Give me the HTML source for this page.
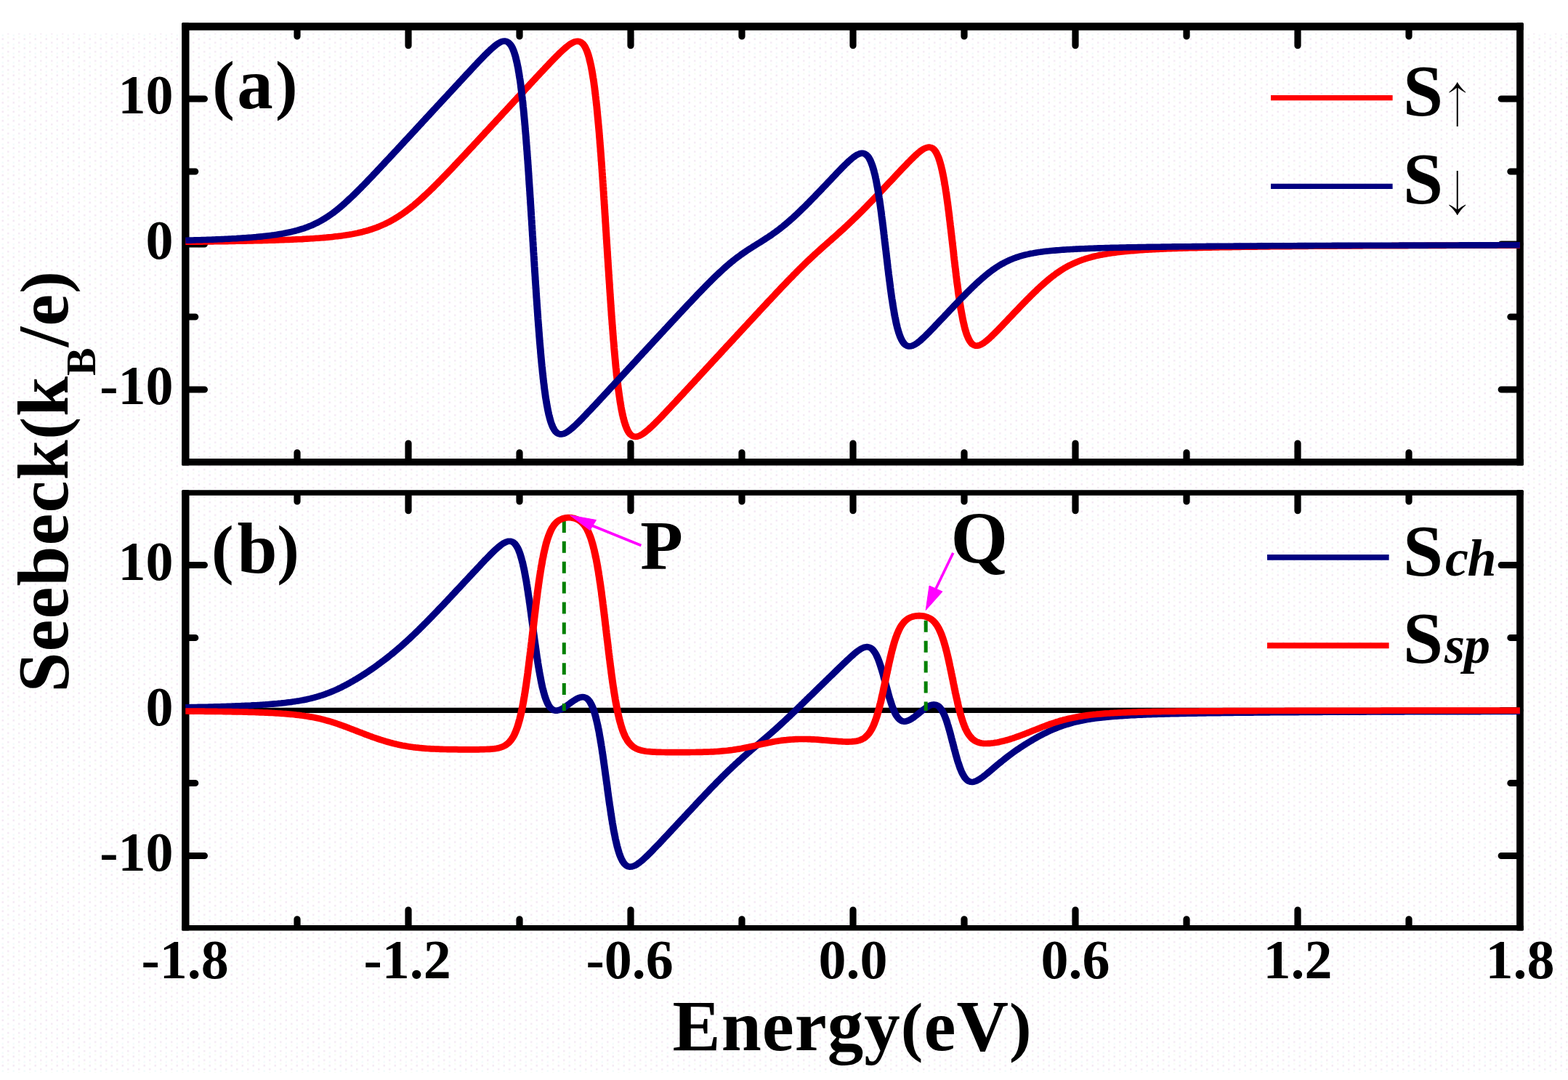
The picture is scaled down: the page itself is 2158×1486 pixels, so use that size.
<!DOCTYPE html>
<html lang="en"><head><meta charset="utf-8"><title>Seebeck coefficient versus energy</title>
<style>
html,body{margin:0;padding:0;background:#ffffff;}
body{width:2158px;height:1486px;overflow:hidden;}
svg{display:block;position:absolute;left:0;top:0;}
text{font-family:"Liberation Serif","Times New Roman",Times,serif;font-weight:bold;fill:#000;}
.tk{font-size:76px;}
.lb{font-size:99px;}
.pr{font-size:91.8px;}
.t{stroke:#000;stroke-width:9.2;stroke-linecap:round;fill:none;}
.c{fill:none;stroke-linejoin:round;stroke-linecap:butt;}
</style></head><body>
<svg width="2158" height="1486" viewBox="0 0 2158 1486">
<defs><pattern id="dith" width="15" height="12.5" patternUnits="userSpaceOnUse"><rect x="2.5" y="2.5" width="2.5" height="2.5" fill="#f3e7f3"/><rect x="10" y="7.5" width="2.5" height="2.5" fill="#f4eaf4"/><rect x="10" y="0" width="2.5" height="2.5" fill="#f8fcf5"/><rect x="2.5" y="10" width="2.5" height="2.5" fill="#f3fbfb"/></pattern></defs>
<rect x="0" y="0" width="2158" height="1486" fill="#ffffff"/>
<rect x="0" y="46" width="2158" height="1430" fill="url(#dith)"/>
<g id="panel-a">
<g fill="#000"><rect x="250.1" y="31.3" width="1846.7" height="10.5" rx="1.5"/><rect x="250.1" y="631.0" width="1846.7" height="9.6" rx="1.5"/><rect x="250.1" y="31.3" width="10.4" height="609.3" rx="1.5"/><rect x="2087.1" y="31.3" width="9.7" height="609.3" rx="1.5"/></g>
<path class="t" d="M409.0 631.0V622.8 M409.0 41.8V50.0 M562.0 631.0V610.1 M562.0 41.8V62.7 M715.0 631.0V622.8 M715.0 41.8V50.0 M868.0 631.0V610.1 M868.0 41.8V62.7 M1021.0 631.0V622.8 M1021.0 41.8V50.0 M1174.0 631.0V610.1 M1174.0 41.8V62.7 M1327.0 631.0V622.8 M1327.0 41.8V50.0 M1480.0 631.0V610.1 M1480.0 41.8V62.7 M1633.0 631.0V622.8 M1633.0 41.8V50.0 M1786.0 631.0V610.1 M1786.0 41.8V62.7 M1939.0 631.0V622.8 M1939.0 41.8V50.0 M255.3 536.0H281.4 M2092.0 536.0H2066.2 M255.3 436.0H268.7 M2092.0 436.0H2078.9 M255.3 336.0H281.4 M2092.0 336.0H2066.2 M255.3 236.0H268.7 M2092.0 236.0H2078.9 M255.3 136.0H281.4 M2092.0 136.0H2066.2"/>
<g transform="scale(1.15 1)"><path class="c" stroke="#ff0000" stroke-width="8.6" d="M222.0 332.8L224.2 332.8L226.3 332.8L228.5 332.7L230.7 332.7L232.9 332.7L235.0 332.6L237.2 332.6L239.4 332.6L241.6 332.6L243.7 332.5L245.9 332.5L248.1 332.5L250.3 332.4L252.4 332.4L254.6 332.4L256.8 332.3L259.0 332.3L261.1 332.2L263.3 332.2L265.5 332.2L267.7 332.1L269.8 332.1L272.0 332.1L274.2 332.0L276.4 332.0L278.5 331.9L280.7 331.9L282.9 331.8L285.0 331.8L287.2 331.7L289.4 331.7L291.6 331.6L293.7 331.6L295.9 331.5L298.1 331.5L300.3 331.4L302.4 331.4L304.6 331.3L306.8 331.3L309.0 331.2L311.1 331.1L313.3 331.1L315.5 331.0L317.7 330.9L319.8 330.9L322.0 330.8L324.2 330.7L326.3 330.6L328.5 330.6L330.7 330.5L332.9 330.4L335.0 330.3L337.2 330.2L339.4 330.1L341.6 330.0L343.7 330.0L345.9 329.9L348.1 329.8L350.3 329.6L352.4 329.5L354.6 329.4L356.8 329.3L358.9 329.2L361.1 329.1L363.3 328.9L365.5 328.8L367.6 328.6L369.8 328.5L372.0 328.3L374.1 328.2L376.3 328.0L378.5 327.8L380.6 327.7L382.8 327.5L385.0 327.3L387.1 327.1L389.3 326.9L391.5 326.6L393.6 326.4L395.8 326.2L398.0 325.9L400.1 325.6L402.3 325.3L404.4 325.1L406.6 324.7L408.8 324.4L410.9 324.1L413.1 323.7L415.2 323.3L417.4 322.9L419.5 322.5L421.6 322.1L423.8 321.6L425.9 321.1L428.0 320.6L430.2 320.0L432.3 319.5L434.4 318.9L436.5 318.2L438.6 317.6L440.7 316.9L442.8 316.1L444.8 315.4L446.9 314.6L448.9 313.7L451.0 312.9L453.0 312.0L455.0 311.0L457.0 310.0L459.0 309.0L461.0 308.0L462.9 306.9L464.9 305.8L466.8 304.6L468.7 303.4L470.6 302.2L472.5 300.9L474.3 299.6L476.2 298.3L478.0 296.9L479.8 295.6L481.6 294.2L483.4 292.7L485.2 291.3L486.9 289.8L488.7 288.3L490.4 286.7L492.1 285.2L493.8 283.6L495.5 282.1L497.1 280.4L498.8 278.8L500.4 277.2L502.1 275.6L503.7 273.9L505.3 272.2L506.9 270.5L508.5 268.8L510.1 267.1L511.7 265.4L513.3 263.7L514.8 262.0L516.4 260.2L518.0 258.5L519.5 256.7L521.0 255.0L522.6 253.2L524.1 251.4L525.6 249.6L527.2 247.9L528.7 246.1L530.2 244.3L531.7 242.5L533.2 240.7L534.7 238.9L536.3 237.1L537.8 235.3L539.3 233.5L540.8 231.7L542.3 229.8L543.8 228.0L545.2 226.2L546.7 224.4L548.2 222.6L549.7 220.8L551.2 218.9L552.7 217.1L554.2 215.3L555.7 213.5L557.2 211.6L558.6 209.8L560.1 208.0L561.6 206.1L563.1 204.3L564.6 202.5L566.1 200.7L567.5 198.8L569.0 197.0L570.5 195.2L572.0 193.3L573.5 191.5L574.9 189.7L576.4 187.8L577.9 186.0L579.4 184.2L580.8 182.3L582.3 180.5L583.8 178.7L585.3 176.8L586.8 175.0L588.2 173.2L589.7 171.3L591.2 169.5L592.7 167.7L594.1 165.8L595.6 164.0L597.1 162.2L598.6 160.3L600.0 158.5L601.5 156.6L603.0 154.8L604.5 153.0L606.0 151.1L607.4 149.3L608.9 147.5L610.4 145.6L611.9 143.8L613.3 142.0L614.8 140.1L616.3 138.3L617.8 136.5L619.2 134.6L620.7 132.8L622.2 131.0L623.7 129.1L625.2 127.3L626.6 125.5L628.1 123.6L629.6 121.8L631.1 120.0L632.6 118.1L634.0 116.3L635.5 114.5L637.0 112.6L638.5 110.8L640.0 109.0L641.4 107.1L642.9 105.3L644.4 103.5L645.9 101.6L647.4 99.8L648.9 98.0L650.3 96.2L651.8 94.4L653.3 92.5L654.8 90.7L656.3 88.9L657.8 87.1L659.3 85.3L660.8 83.5L662.3 81.7L663.9 79.9L665.4 78.1L666.9 76.4L668.5 74.6L670.0 72.8L671.6 71.1L673.2 69.4L674.8 67.7L676.4 66.1L678.1 64.4L679.8 62.9L681.5 61.4L683.3 60.0L685.2 58.8L687.2 57.7L689.3 57.0L691.4 56.8L693.6 57.2L695.5 58.3L697.2 59.9L698.6 61.8L699.8 63.8L700.8 66.0L701.7 68.3L702.6 70.6L703.3 73.0L704.0 75.4L704.6 77.8L705.2 80.2L705.7 82.6L706.2 85.0L706.7 87.5L707.2 89.9L707.6 92.4L708.0 94.8L708.4 97.3L708.8 99.7L709.1 102.2L709.5 104.7L709.8 107.1L710.2 109.6L710.5 112.1L710.8 114.6L711.1 117.0L711.4 119.5L711.7 122.0L711.9 124.5L712.2 126.9L712.5 129.4L712.7 131.9L713.0 134.4L713.2 136.9L713.5 139.4L713.7 141.9L713.9 144.3L714.2 146.8L714.4 149.3L714.6 151.8L714.8 154.3L715.0 156.8L715.2 159.3L715.4 161.8L715.6 164.2L715.8 166.7L716.0 169.2L716.2 171.7L716.4 174.2L716.6 176.7L716.8 179.2L717.0 181.7L717.2 184.2L717.3 186.7L717.5 189.2L717.7 191.6L717.9 194.1L718.0 196.6L718.2 199.1L718.4 201.6L718.6 204.1L718.7 206.6L718.9 209.1L719.1 211.6L719.2 214.1L719.4 216.6L719.5 219.1L719.7 221.6L719.9 224.1L720.0 226.6L720.2 229.0L720.3 231.5L720.5 234.0L720.6 236.5L720.8 239.0L720.9 241.5L721.1 244.0L721.2 246.5L721.4 249.0L721.5 251.5L721.7 254.0L721.8 256.5L722.0 259.0L722.1 261.5L722.3 264.0L722.4 266.5L722.5 269.0L722.7 271.5L722.8 274.0L723.0 276.4L723.1 278.9L723.2 281.4L723.4 283.9L723.5 286.4L723.7 288.9L723.8 291.4L723.9 293.9L724.1 296.4L724.2 298.9L724.4 301.4L724.5 303.9L724.6 306.4L724.8 308.9L724.9 311.4L725.0 313.9L725.2 316.4L725.3 318.9L725.5 321.4L725.6 323.9L725.7 326.4L725.9 328.9L726.0 331.3L726.1 333.8L726.3 336.3L726.4 338.8L726.6 341.3L726.7 343.8L726.8 346.3L727.0 348.8L727.1 351.3L727.2 353.8L727.4 356.3L727.5 358.8L727.7 361.3L727.8 363.8L727.9 366.3L728.1 368.8L728.2 371.3L728.4 373.8L728.5 376.3L728.6 378.8L728.8 381.3L728.9 383.8L729.1 386.2L729.2 388.7L729.4 391.2L729.5 393.7L729.6 396.2L729.8 398.7L729.9 401.2L730.1 403.7L730.2 406.2L730.4 408.7L730.5 411.2L730.7 413.7L730.8 416.2L731.0 418.7L731.1 421.2L731.3 423.7L731.4 426.2L731.6 428.7L731.7 431.1L731.9 433.6L732.0 436.1L732.2 438.6L732.4 441.1L732.5 443.6L732.7 446.1L732.9 448.6L733.0 451.1L733.2 453.6L733.4 456.1L733.5 458.6L733.7 461.1L733.9 463.6L734.0 466.1L734.2 468.5L734.4 471.0L734.6 473.5L734.8 476.0L734.9 478.5L735.1 481.0L735.3 483.5L735.5 486.0L735.7 488.5L735.9 491.0L736.1 493.5L736.3 495.9L736.5 498.4L736.7 500.9L736.9 503.4L737.1 505.9L737.4 508.4L737.6 510.9L737.8 513.4L738.0 515.9L738.3 518.3L738.5 520.8L738.8 523.3L739.0 525.8L739.3 528.3L739.5 530.8L739.8 533.2L740.1 535.7L740.4 538.2L740.7 540.7L741.0 543.2L741.3 545.6L741.6 548.1L741.9 550.6L742.2 553.0L742.6 555.5L743.0 558.0L743.3 560.4L743.7 562.9L744.1 565.4L744.6 567.8L745.0 570.2L745.5 572.7L746.0 575.1L746.6 577.5L747.1 580.0L747.8 582.3L748.4 584.7L749.2 587.1L750.0 589.4L750.9 591.7L751.9 593.9L753.1 596.0L754.5 597.9L756.2 599.4L758.2 600.5L760.3 600.9L762.4 600.7L764.5 600.0L766.5 598.9L768.4 597.7L770.2 596.3L771.9 594.8L773.6 593.2L775.3 591.6L776.9 590.0L778.5 588.3L780.1 586.6L781.7 584.8L783.2 583.1L784.8 581.3L786.3 579.5L787.8 577.8L789.4 576.0L790.9 574.2L792.4 572.4L793.9 570.6L795.4 568.8L796.9 566.9L798.4 565.1L799.9 563.3L801.3 561.5L802.8 559.7L804.3 557.8L805.8 556.0L807.3 554.2L808.8 552.4L810.3 550.5L811.7 548.7L813.2 546.9L814.7 545.0L816.2 543.2L817.7 541.4L819.1 539.5L820.6 537.7L822.1 535.9L823.6 534.0L825.1 532.2L826.5 530.4L828.0 528.5L829.5 526.7L831.0 524.9L832.4 523.0L833.9 521.2L835.4 519.4L836.9 517.5L838.3 515.7L839.8 513.9L841.3 512.0L842.8 510.2L844.3 508.3L845.7 506.5L847.2 504.7L848.7 502.8L850.2 501.0L851.6 499.2L853.1 497.3L854.6 495.5L856.1 493.7L857.5 491.8L859.0 490.0L860.5 488.2L862.0 486.3L863.4 484.5L864.9 482.6L866.4 480.8L867.9 479.0L869.3 477.1L870.8 475.3L872.3 473.5L873.8 471.6L875.3 469.8L876.7 468.0L878.2 466.1L879.7 464.3L881.2 462.5L882.6 460.6L884.1 458.8L885.6 456.9L887.1 455.1L888.5 453.3L890.0 451.4L891.5 449.6L893.0 447.8L894.5 445.9L895.9 444.1L897.4 442.3L898.9 440.4L900.4 438.6L901.8 436.8L903.3 434.9L904.8 433.1L906.3 431.3L907.8 429.4L909.2 427.6L910.7 425.8L912.2 423.9L913.7 422.1L915.2 420.3L916.7 418.5L918.1 416.6L919.6 414.8L921.1 413.0L922.6 411.2L924.1 409.3L925.6 407.5L927.1 405.7L928.5 403.9L930.0 402.0L931.5 400.2L933.0 398.4L934.5 396.6L936.0 394.8L937.5 393.0L939.0 391.2L940.5 389.4L942.0 387.6L943.5 385.8L945.0 384.0L946.6 382.2L948.1 380.4L949.6 378.6L951.1 376.8L952.7 375.0L954.2 373.2L955.7 371.5L957.3 369.7L958.8 368.0L960.4 366.2L961.9 364.5L963.5 362.7L965.0 361.0L966.6 359.2L968.2 357.5L969.8 355.8L971.4 354.1L972.9 352.4L974.5 350.7L976.1 349.0L977.8 347.3L979.4 345.6L981.0 344.0L982.6 342.3L984.2 340.6L985.8 339.0L987.5 337.3L989.1 335.7L990.7 334.0L992.4 332.3L994.0 330.7L995.6 329.0L997.2 327.4L998.9 325.7L1000.5 324.1L1002.1 322.4L1003.7 320.7L1005.3 319.0L1007.0 317.4L1008.6 315.7L1010.2 314.0L1011.8 312.3L1013.4 310.6L1014.9 308.9L1016.5 307.2L1018.1 305.4L1019.7 303.7L1021.2 302.0L1022.8 300.2L1024.4 298.5L1025.9 296.7L1027.5 295.0L1029.0 293.2L1030.6 291.5L1032.1 289.7L1033.6 287.9L1035.2 286.1L1036.7 284.4L1038.2 282.6L1039.7 280.8L1041.2 279.0L1042.7 277.2L1044.3 275.4L1045.8 273.6L1047.3 271.8L1048.8 270.0L1050.3 268.2L1051.8 266.4L1053.3 264.6L1054.8 262.7L1056.3 260.9L1057.8 259.1L1059.2 257.3L1060.7 255.5L1062.2 253.6L1063.7 251.8L1065.2 250.0L1066.7 248.2L1068.2 246.4L1069.7 244.5L1071.2 242.7L1072.6 240.9L1074.1 239.1L1075.6 237.3L1077.1 235.4L1078.6 233.6L1080.1 231.8L1081.6 230.0L1083.1 228.2L1084.6 226.4L1086.1 224.6L1087.6 222.8L1089.2 221.0L1090.7 219.2L1092.3 217.5L1093.8 215.7L1095.4 214.0L1097.0 212.3L1098.6 210.7L1100.3 209.1L1102.0 207.5L1103.8 206.1L1105.6 204.8L1107.6 203.7L1109.6 202.9L1111.8 202.5L1113.9 202.9L1115.9 203.9L1117.6 205.5L1119.0 207.4L1120.2 209.5L1121.2 211.7L1122.1 214.0L1123.0 216.3L1123.7 218.6L1124.4 221.0L1125.0 223.4L1125.6 225.8L1126.2 228.2L1126.7 230.6L1127.2 233.1L1127.7 235.5L1128.1 238.0L1128.6 240.4L1129.0 242.9L1129.4 245.3L1129.8 247.8L1130.2 250.2L1130.5 252.7L1130.9 255.2L1131.3 257.6L1131.6 260.1L1131.9 262.6L1132.3 265.0L1132.6 267.5L1132.9 270.0L1133.2 272.5L1133.5 274.9L1133.8 277.4L1134.1 279.9L1134.4 282.4L1134.7 284.9L1134.9 287.3L1135.2 289.8L1135.5 292.3L1135.8 294.8L1136.0 297.3L1136.3 299.7L1136.5 302.2L1136.8 304.7L1137.1 307.2L1137.3 309.7L1137.6 312.2L1137.8 314.6L1138.1 317.1L1138.3 319.6L1138.6 322.1L1138.8 324.6L1139.1 327.1L1139.3 329.5L1139.6 332.0L1139.8 334.5L1140.1 337.0L1140.3 339.5L1140.6 342.0L1140.8 344.5L1141.1 346.9L1141.3 349.4L1141.5 351.9L1141.8 354.4L1142.0 356.9L1142.3 359.4L1142.5 361.8L1142.8 364.3L1143.0 366.8L1143.3 369.3L1143.6 371.8L1143.8 374.3L1144.1 376.7L1144.3 379.2L1144.6 381.7L1144.9 384.2L1145.1 386.7L1145.4 389.1L1145.7 391.6L1146.0 394.1L1146.3 396.6L1146.6 399.1L1146.8 401.5L1147.1 404.0L1147.4 406.5L1147.8 409.0L1148.1 411.4L1148.4 413.9L1148.7 416.4L1149.0 418.9L1149.4 421.3L1149.7 423.8L1150.1 426.3L1150.5 428.7L1150.9 431.2L1151.3 433.6L1151.7 436.1L1152.1 438.6L1152.5 441.0L1153.0 443.4L1153.5 445.9L1154.0 448.3L1154.5 450.7L1155.1 453.2L1155.7 455.6L1156.3 457.9L1157.0 460.3L1157.8 462.6L1158.7 465.0L1159.6 467.2L1160.7 469.4L1161.9 471.4L1163.4 473.3L1165.2 474.7L1167.2 475.6L1169.4 475.8L1171.5 475.3L1173.5 474.4L1175.4 473.2L1177.3 471.9L1179.0 470.4L1180.7 468.8L1182.4 467.2L1184.0 465.6L1185.6 463.9L1187.2 462.1L1188.7 460.4L1190.3 458.6L1191.8 456.9L1193.3 455.1L1194.9 453.3L1196.4 451.5L1197.9 449.7L1199.4 447.9L1200.9 446.1L1202.4 444.3L1203.9 442.5L1205.4 440.7L1206.9 438.8L1208.4 437.0L1209.9 435.2L1211.4 433.4L1212.9 431.6L1214.4 429.8L1215.9 428.0L1217.4 426.2L1218.9 424.4L1220.4 422.6L1221.9 420.8L1223.4 419.0L1224.9 417.2L1226.5 415.4L1228.0 413.6L1229.5 411.8L1231.0 410.1L1232.6 408.3L1234.1 406.5L1235.7 404.8L1237.2 403.0L1238.8 401.3L1240.4 399.6L1241.9 397.8L1243.5 396.1L1245.1 394.4L1246.7 392.7L1248.3 391.1L1250.0 389.4L1251.6 387.8L1253.3 386.2L1254.9 384.5L1256.6 383.0L1258.3 381.4L1260.0 379.9L1261.8 378.4L1263.5 376.9L1265.3 375.4L1267.1 374.0L1268.9 372.6L1270.7 371.3L1272.6 369.9L1274.4 368.6L1276.3 367.4L1278.2 366.2L1280.1 365.0L1282.1 363.9L1284.0 362.8L1286.0 361.8L1288.0 360.8L1290.0 359.8L1292.0 358.9L1294.1 358.1L1296.1 357.2L1298.2 356.4L1300.3 355.7L1302.3 355.0L1304.4 354.3L1306.5 353.6L1308.6 353.0L1310.8 352.4L1312.9 351.9L1315.0 351.3L1317.1 350.8L1319.3 350.4L1321.4 349.9L1323.6 349.5L1325.7 349.1L1327.8 348.7L1330.0 348.3L1332.1 348.0L1334.3 347.7L1336.5 347.3L1338.6 347.0L1340.8 346.7L1342.9 346.5L1345.1 346.2L1347.3 346.0L1349.4 345.7L1351.6 345.5L1353.8 345.3L1355.9 345.1L1358.1 344.9L1360.3 344.7L1362.4 344.5L1364.6 344.3L1366.8 344.1L1368.9 344.0L1371.1 343.8L1373.3 343.7L1375.5 343.5L1377.6 343.4L1379.8 343.3L1382.0 343.1L1384.1 343.0L1386.3 342.9L1388.5 342.8L1390.7 342.7L1392.8 342.5L1395.0 342.4L1397.2 342.3L1399.3 342.2L1401.5 342.1L1403.7 342.0L1405.9 342.0L1408.0 341.9L1410.2 341.8L1412.4 341.7L1414.6 341.6L1416.7 341.5L1418.9 341.5L1421.1 341.4L1423.2 341.3L1425.4 341.3L1427.6 341.2L1429.8 341.1L1431.9 341.1L1434.1 341.0L1436.3 340.9L1438.5 340.9L1440.6 340.8L1442.8 340.8L1445.0 340.7L1447.2 340.6L1449.3 340.6L1451.5 340.5L1453.7 340.5L1455.9 340.4L1458.0 340.4L1460.2 340.3L1462.4 340.3L1464.5 340.2L1466.7 340.2L1468.9 340.2L1471.1 340.1L1473.2 340.1L1475.4 340.0L1477.6 340.0L1479.8 340.0L1481.9 339.9L1484.1 339.9L1486.3 339.8L1488.5 339.8L1490.6 339.8L1492.8 339.7L1495.0 339.7L1497.2 339.7L1499.3 339.6L1501.5 339.6L1503.7 339.6L1505.9 339.5L1508.0 339.5L1510.2 339.5L1512.4 339.4L1514.6 339.4L1516.7 339.4L1518.9 339.4L1521.1 339.3L1523.3 339.3L1525.4 339.3L1527.6 339.2L1529.8 339.2L1531.9 339.2L1534.1 339.2L1536.3 339.1L1538.5 339.1L1540.6 339.1L1542.8 339.1L1545.0 339.1L1547.2 339.0L1549.3 339.0L1551.5 339.0L1553.7 339.0L1555.9 338.9L1558.0 338.9L1560.2 338.9L1562.4 338.9L1564.6 338.9L1566.7 338.8L1568.9 338.8L1571.1 338.8L1573.3 338.8L1575.4 338.8L1577.6 338.7L1579.8 338.7L1582.0 338.7L1584.1 338.7L1586.3 338.7L1588.5 338.7L1590.7 338.6L1592.8 338.6L1595.0 338.6L1597.2 338.6L1599.3 338.6L1601.5 338.5L1603.7 338.5L1605.9 338.5L1608.0 338.5L1610.2 338.5L1612.4 338.5L1614.6 338.5L1616.7 338.4L1618.9 338.4L1621.1 338.4L1623.3 338.4L1625.4 338.4L1627.6 338.4L1629.8 338.4L1632.0 338.3L1634.1 338.3L1636.3 338.3L1638.5 338.3L1640.7 338.3L1642.8 338.3L1645.0 338.3L1647.2 338.3L1649.4 338.2L1651.5 338.2L1653.7 338.2L1655.9 338.2L1658.1 338.2L1660.2 338.2L1662.4 338.2L1664.6 338.2L1666.8 338.1L1668.9 338.1L1671.1 338.1L1673.3 338.1L1675.5 338.1L1677.6 338.1L1679.8 338.1L1682.0 338.1L1684.1 338.1L1686.3 338.0L1688.5 338.0L1690.7 338.0L1692.8 338.0L1695.0 338.0L1697.2 338.0L1699.4 338.0L1701.5 338.0L1703.7 338.0L1705.9 338.0L1708.1 337.9L1710.2 337.9L1712.4 337.9L1714.6 337.9L1716.8 337.9L1718.9 337.9L1721.1 337.9L1723.3 337.9L1725.5 337.9L1727.6 337.9L1729.8 337.9L1732.0 337.8L1734.2 337.8L1736.3 337.8L1738.5 337.8L1740.7 337.8L1742.9 337.8L1745.0 337.8L1747.2 337.8L1749.4 337.8L1751.6 337.8L1753.7 337.8L1755.9 337.8L1758.1 337.8L1760.2 337.7L1762.4 337.7L1764.6 337.7L1766.8 337.7L1768.9 337.7L1771.1 337.7L1773.3 337.7L1775.5 337.7L1777.6 337.7L1779.8 337.7L1782.0 337.7L1784.2 337.7L1786.3 337.7L1788.5 337.7L1790.7 337.6L1792.9 337.6L1795.0 337.6L1797.2 337.6L1799.4 337.6L1801.6 337.6L1803.7 337.6L1805.9 337.6L1808.1 337.6L1810.3 337.6L1812.4 337.6L1814.6 337.6L1816.8 337.6L1819.0 337.6"/></g>
<g transform="scale(1.15 1)"><path class="c" stroke="#000080" stroke-width="8.6" d="M222.0 330.8L224.2 330.7L226.3 330.6L228.5 330.6L230.7 330.5L232.9 330.4L235.0 330.3L237.2 330.3L239.4 330.2L241.6 330.1L243.7 330.0L245.9 330.0L248.1 329.9L250.3 329.8L252.4 329.7L254.6 329.6L256.8 329.5L259.0 329.4L261.1 329.3L263.3 329.2L265.5 329.1L267.7 329.0L269.8 328.8L272.0 328.7L274.2 328.6L276.3 328.5L278.5 328.3L280.7 328.2L282.9 328.1L285.0 327.9L287.2 327.8L289.4 327.6L291.5 327.4L293.7 327.3L295.9 327.1L298.1 326.9L300.2 326.7L302.4 326.5L304.6 326.3L306.7 326.1L308.9 325.8L311.1 325.6L313.2 325.4L315.4 325.1L317.6 324.8L319.7 324.5L321.9 324.2L324.0 323.9L326.2 323.6L328.3 323.3L330.5 322.9L332.6 322.5L334.8 322.1L336.9 321.7L339.1 321.3L341.2 320.8L343.4 320.3L345.5 319.8L347.6 319.3L349.7 318.7L351.8 318.1L353.9 317.5L356.0 316.8L358.1 316.1L360.2 315.4L362.3 314.7L364.4 313.9L366.4 313.0L368.4 312.2L370.5 311.2L372.5 310.3L374.5 309.3L376.4 308.2L378.4 307.2L380.4 306.0L382.3 304.9L384.2 303.7L386.1 302.4L387.9 301.2L389.8 299.8L391.6 298.5L393.4 297.1L395.2 295.7L397.0 294.2L398.8 292.8L400.5 291.3L402.2 289.7L403.9 288.2L405.6 286.6L407.3 285.0L408.9 283.4L410.6 281.7L412.2 280.1L413.8 278.4L415.4 276.7L417.0 275.0L418.6 273.3L420.2 271.6L421.8 269.9L423.4 268.1L424.9 266.4L426.5 264.6L428.0 262.9L429.5 261.1L431.1 259.3L432.6 257.6L434.1 255.8L435.7 254.0L437.2 252.2L438.7 250.4L440.2 248.6L441.7 246.8L443.2 245.0L444.7 243.2L446.2 241.4L447.7 239.5L449.2 237.7L450.7 235.9L452.2 234.1L453.7 232.3L455.2 230.4L456.7 228.6L458.2 226.8L459.6 225.0L461.1 223.1L462.6 221.3L464.1 219.5L465.6 217.7L467.1 215.8L468.5 214.0L470.0 212.2L471.5 210.3L473.0 208.5L474.5 206.7L476.0 204.8L477.4 203.0L478.9 201.2L480.4 199.3L481.9 197.5L483.3 195.7L484.8 193.8L486.3 192.0L487.8 190.2L489.3 188.3L490.7 186.5L492.2 184.7L493.7 182.8L495.2 181.0L496.7 179.2L498.1 177.3L499.6 175.5L501.1 173.6L502.6 171.8L504.0 170.0L505.5 168.1L507.0 166.3L508.5 164.5L509.9 162.6L511.4 160.8L512.9 159.0L514.4 157.1L515.9 155.3L517.3 153.4L518.8 151.6L520.3 149.8L521.8 147.9L523.2 146.1L524.7 144.3L526.2 142.4L527.7 140.6L529.2 138.8L530.6 136.9L532.1 135.1L533.6 133.2L535.1 131.4L536.5 129.6L538.0 127.7L539.5 125.9L541.0 124.1L542.4 122.2L543.9 120.4L545.4 118.6L546.9 116.7L548.4 114.9L549.8 113.0L551.3 111.2L552.8 109.4L554.3 107.5L555.8 105.7L557.2 103.9L558.7 102.0L560.2 100.2L561.7 98.4L563.2 96.6L564.7 94.7L566.1 92.9L567.6 91.1L569.1 89.3L570.6 87.4L572.1 85.6L573.6 83.8L575.1 82.0L576.6 80.2L578.1 78.4L579.7 76.6L581.2 74.8L582.7 73.1L584.3 71.3L585.9 69.6L587.4 67.9L589.1 66.2L590.7 64.6L592.4 63.0L594.1 61.4L595.9 60.0L597.7 58.7L599.7 57.6L601.8 56.8L603.9 56.6L606.1 57.0L608.0 58.1L609.6 59.7L611.0 61.6L612.2 63.7L613.2 65.9L614.1 68.2L614.9 70.6L615.6 72.9L616.2 75.3L616.9 77.7L617.4 80.1L617.9 82.6L618.4 85.0L618.9 87.4L619.3 89.9L619.8 92.3L620.2 94.8L620.5 97.3L620.9 99.7L621.3 102.2L621.6 104.7L621.9 107.1L622.3 109.6L622.6 112.1L622.9 114.6L623.2 117.0L623.4 119.5L623.7 122.0L624.0 124.5L624.2 127.0L624.5 129.5L624.7 131.9L625.0 134.4L625.2 136.9L625.5 139.4L625.7 141.9L625.9 144.4L626.1 146.9L626.4 149.4L626.6 151.8L626.8 154.3L627.0 156.8L627.2 159.3L627.4 161.8L627.6 164.3L627.8 166.8L628.0 169.3L628.2 171.8L628.4 174.3L628.5 176.8L628.7 179.3L628.9 181.7L629.1 184.2L629.3 186.7L629.4 189.2L629.6 191.7L629.8 194.2L629.9 196.7L630.1 199.2L630.3 201.7L630.4 204.2L630.6 206.7L630.8 209.2L630.9 211.7L631.1 214.2L631.2 216.7L631.4 219.2L631.6 221.7L631.7 224.2L631.9 226.6L632.0 229.1L632.2 231.6L632.3 234.1L632.5 236.6L632.6 239.1L632.8 241.6L632.9 244.1L633.0 246.6L633.2 249.1L633.3 251.6L633.5 254.1L633.6 256.6L633.8 259.1L633.9 261.6L634.1 264.1L634.2 266.6L634.3 269.1L634.5 271.6L634.6 274.1L634.8 276.6L634.9 279.1L635.0 281.6L635.2 284.1L635.3 286.6L635.4 289.1L635.6 291.6L635.7 294.0L635.8 296.5L636.0 299.0L636.1 301.5L636.3 304.0L636.4 306.5L636.5 309.0L636.7 311.5L636.8 314.0L636.9 316.5L637.1 319.0L637.2 321.5L637.3 324.0L637.5 326.5L637.6 329.0L637.7 331.5L637.9 334.0L638.0 336.5L638.1 339.0L638.3 341.5L638.4 344.0L638.5 346.5L638.7 349.0L638.8 351.5L639.0 354.0L639.1 356.5L639.2 359.0L639.4 361.5L639.5 364.0L639.6 366.5L639.8 369.0L639.9 371.5L640.0 373.9L640.2 376.4L640.3 378.9L640.5 381.4L640.6 383.9L640.7 386.4L640.9 388.9L641.0 391.4L641.2 393.9L641.3 396.4L641.5 398.9L641.6 401.4L641.7 403.9L641.9 406.4L642.0 408.9L642.2 411.4L642.3 413.9L642.5 416.4L642.6 418.9L642.8 421.4L642.9 423.9L643.1 426.4L643.2 428.9L643.4 431.4L643.5 433.9L643.7 436.4L643.8 438.8L644.0 441.3L644.2 443.8L644.3 446.3L644.5 448.8L644.7 451.3L644.8 453.8L645.0 456.3L645.2 458.8L645.3 461.3L645.5 463.8L645.7 466.3L645.8 468.8L646.0 471.3L646.2 473.8L646.4 476.3L646.6 478.8L646.8 481.2L646.9 483.7L647.1 486.2L647.3 488.7L647.5 491.2L647.7 493.7L647.9 496.2L648.1 498.7L648.3 501.2L648.5 503.7L648.8 506.2L649.0 508.6L649.2 511.1L649.4 513.6L649.7 516.1L649.9 518.6L650.1 521.1L650.4 523.6L650.6 526.0L650.9 528.5L651.2 531.0L651.4 533.5L651.7 536.0L652.0 538.5L652.3 540.9L652.6 543.4L652.9 545.9L653.2 548.4L653.6 550.8L653.9 553.3L654.3 555.8L654.7 558.2L655.1 560.7L655.5 563.2L655.9 565.6L656.4 568.0L656.8 570.5L657.4 572.9L657.9 575.3L658.5 577.8L659.1 580.1L659.8 582.5L660.6 584.9L661.4 587.2L662.4 589.4L663.5 591.6L664.7 593.6L666.3 595.4L668.1 596.7L670.2 597.4L672.3 597.4L674.5 596.8L676.5 595.8L678.4 594.6L680.2 593.2L681.9 591.7L683.6 590.1L685.3 588.5L686.9 586.8L688.5 585.1L690.1 583.4L691.6 581.7L693.2 579.9L694.7 578.1L696.2 576.4L697.7 574.6L699.2 572.8L700.7 571.0L702.2 569.1L703.7 567.3L705.2 565.5L706.7 563.7L708.2 561.9L709.7 560.0L711.2 558.2L712.7 556.4L714.2 554.6L715.6 552.7L717.1 550.9L718.6 549.1L720.1 547.2L721.6 545.4L723.0 543.6L724.5 541.7L726.0 539.9L727.5 538.1L729.0 536.2L730.4 534.4L731.9 532.5L733.4 530.7L734.9 528.9L736.3 527.0L737.8 525.2L739.3 523.4L740.8 521.5L742.3 519.7L743.7 517.9L745.2 516.0L746.7 514.2L748.2 512.3L749.6 510.5L751.1 508.7L752.6 506.8L754.1 505.0L755.6 503.2L757.0 501.3L758.5 499.5L760.0 497.7L761.5 495.8L762.9 494.0L764.4 492.1L765.9 490.3L767.4 488.5L768.8 486.6L770.3 484.8L771.8 483.0L773.3 481.1L774.8 479.3L776.2 477.5L777.7 475.6L779.2 473.8L780.7 471.9L782.1 470.1L783.6 468.3L785.1 466.4L786.6 464.6L788.1 462.8L789.5 460.9L791.0 459.1L792.5 457.3L794.0 455.4L795.4 453.6L796.9 451.8L798.4 449.9L799.9 448.1L801.4 446.3L802.8 444.4L804.3 442.6L805.8 440.8L807.3 438.9L808.8 437.1L810.3 435.3L811.7 433.4L813.2 431.6L814.7 429.8L816.2 427.9L817.7 426.1L819.2 424.3L820.6 422.5L822.1 420.6L823.6 418.8L825.1 417.0L826.6 415.2L828.1 413.4L829.6 411.5L831.1 409.7L832.6 407.9L834.1 406.1L835.6 404.3L837.1 402.5L838.6 400.7L840.1 398.9L841.6 397.1L843.2 395.3L844.7 393.5L846.2 391.7L847.7 389.9L849.3 388.2L850.8 386.4L852.4 384.6L853.9 382.9L855.5 381.1L857.0 379.4L858.6 377.7L860.2 376.0L861.8 374.3L863.4 372.6L865.0 370.9L866.6 369.2L868.2 367.5L869.9 365.9L871.5 364.3L873.2 362.6L874.8 361.0L876.5 359.5L878.2 357.9L879.9 356.4L881.7 354.8L883.4 353.3L885.2 351.9L886.9 350.4L888.7 348.9L890.5 347.5L892.3 346.1L894.1 344.7L895.9 343.3L897.7 342.0L899.6 340.6L901.4 339.3L903.2 338.0L905.1 336.6L906.9 335.3L908.8 334.0L910.6 332.7L912.5 331.3L914.3 330.0L916.1 328.6L917.9 327.3L919.8 325.9L921.6 324.5L923.4 323.1L925.1 321.6L926.9 320.2L928.7 318.7L930.4 317.2L932.2 315.7L933.9 314.2L935.6 312.6L937.3 311.1L939.0 309.5L940.7 307.9L942.3 306.3L944.0 304.7L945.6 303.0L947.2 301.4L948.9 299.7L950.5 298.0L952.1 296.3L953.7 294.6L955.2 292.9L956.8 291.2L958.4 289.4L959.9 287.7L961.5 285.9L963.1 284.2L964.6 282.4L966.1 280.7L967.7 278.9L969.2 277.1L970.7 275.3L972.2 273.5L973.8 271.7L975.3 269.9L976.8 268.1L978.3 266.3L979.8 264.5L981.3 262.7L982.8 260.9L984.3 259.1L985.8 257.3L987.3 255.5L988.8 253.7L990.3 251.8L991.8 250.0L993.3 248.2L994.8 246.4L996.3 244.6L997.8 242.8L999.3 241.0L1000.8 239.1L1002.3 237.3L1003.8 235.5L1005.3 233.7L1006.8 231.9L1008.3 230.2L1009.9 228.4L1011.4 226.6L1013.0 224.9L1014.6 223.1L1016.1 221.4L1017.8 219.8L1019.4 218.1L1021.1 216.6L1022.9 215.1L1024.7 213.7L1026.6 212.5L1028.6 211.5L1030.7 210.9L1032.8 210.9L1034.9 211.6L1036.7 213.0L1038.3 214.7L1039.6 216.7L1040.7 218.9L1041.7 221.1L1042.5 223.4L1043.3 225.8L1044.0 228.1L1044.7 230.5L1045.3 232.9L1045.9 235.3L1046.4 237.7L1047.0 240.2L1047.5 242.6L1047.9 245.0L1048.4 247.5L1048.8 249.9L1049.2 252.4L1049.6 254.9L1050.0 257.3L1050.4 259.8L1050.8 262.2L1051.1 264.7L1051.5 267.2L1051.8 269.7L1052.1 272.1L1052.5 274.6L1052.8 277.1L1053.1 279.6L1053.4 282.0L1053.7 284.5L1054.0 287.0L1054.3 289.5L1054.6 291.9L1054.9 294.4L1055.1 296.9L1055.4 299.4L1055.7 301.9L1056.0 304.3L1056.2 306.8L1056.5 309.3L1056.8 311.8L1057.0 314.3L1057.3 316.8L1057.6 319.2L1057.8 321.7L1058.1 324.2L1058.3 326.7L1058.6 329.2L1058.8 331.7L1059.1 334.2L1059.3 336.6L1059.6 339.1L1059.8 341.6L1060.1 344.1L1060.4 346.6L1060.6 349.1L1060.9 351.5L1061.1 354.0L1061.4 356.5L1061.6 359.0L1061.9 361.5L1062.1 364.0L1062.4 366.5L1062.6 368.9L1062.9 371.4L1063.2 373.9L1063.4 376.4L1063.7 378.9L1064.0 381.4L1064.2 383.8L1064.5 386.3L1064.8 388.8L1065.1 391.3L1065.4 393.8L1065.6 396.2L1065.9 398.7L1066.2 401.2L1066.5 403.7L1066.8 406.2L1067.1 408.6L1067.4 411.1L1067.8 413.6L1068.1 416.1L1068.4 418.5L1068.8 421.0L1069.1 423.5L1069.5 425.9L1069.9 428.4L1070.2 430.9L1070.6 433.3L1071.0 435.8L1071.5 438.2L1071.9 440.7L1072.3 443.1L1072.8 445.6L1073.3 448.0L1073.8 450.4L1074.4 452.9L1075.0 455.3L1075.6 457.7L1076.3 460.0L1077.0 462.4L1077.9 464.7L1078.8 467.0L1079.8 469.2L1081.0 471.3L1082.3 473.2L1084.0 474.9L1085.9 476.0L1088.0 476.5L1090.2 476.3L1092.2 475.6L1094.2 474.5L1096.1 473.2L1097.9 471.8L1099.6 470.2L1101.3 468.7L1102.9 467.0L1104.5 465.3L1106.1 463.6L1107.7 461.9L1109.2 460.1L1110.7 458.4L1112.3 456.6L1113.8 454.8L1115.3 453.0L1116.8 451.2L1118.3 449.4L1119.8 447.6L1121.3 445.8L1122.8 443.9L1124.3 442.1L1125.8 440.3L1127.3 438.5L1128.8 436.7L1130.3 434.9L1131.8 433.0L1133.3 431.2L1134.8 429.4L1136.3 427.6L1137.8 425.8L1139.3 424.0L1140.8 422.1L1142.3 420.3L1143.8 418.5L1145.3 416.7L1146.8 414.9L1148.3 413.1L1149.8 411.3L1151.3 409.5L1152.9 407.8L1154.4 406.0L1155.9 404.2L1157.5 402.4L1159.0 400.7L1160.5 398.9L1162.1 397.2L1163.7 395.4L1165.2 393.7L1166.8 392.0L1168.4 390.2L1170.0 388.5L1171.6 386.9L1173.2 385.2L1174.9 383.5L1176.5 381.9L1178.2 380.3L1179.8 378.7L1181.5 377.1L1183.2 375.5L1184.9 374.0L1186.7 372.5L1188.4 371.0L1190.2 369.6L1192.0 368.2L1193.8 366.8L1195.7 365.5L1197.5 364.2L1199.4 363.0L1201.3 361.8L1203.3 360.6L1205.2 359.5L1207.2 358.4L1209.2 357.4L1211.2 356.5L1213.2 355.5L1215.2 354.7L1217.3 353.8L1219.4 353.1L1221.5 352.3L1223.5 351.7L1225.6 351.0L1227.8 350.4L1229.9 349.9L1232.0 349.3L1234.1 348.8L1236.3 348.4L1238.4 347.9L1240.6 347.5L1242.7 347.1L1244.9 346.8L1247.0 346.4L1249.2 346.1L1251.3 345.8L1253.5 345.5L1255.7 345.3L1257.8 345.0L1260.0 344.8L1262.2 344.6L1264.3 344.4L1266.5 344.2L1268.7 344.0L1270.8 343.8L1273.0 343.6L1275.2 343.5L1277.3 343.3L1279.5 343.2L1281.7 343.0L1283.9 342.9L1286.0 342.7L1288.2 342.6L1290.4 342.5L1292.6 342.4L1294.7 342.3L1296.9 342.2L1299.1 342.1L1301.2 342.0L1303.4 341.9L1305.6 341.8L1307.8 341.7L1309.9 341.6L1312.1 341.5L1314.3 341.4L1316.5 341.4L1318.6 341.3L1320.8 341.2L1323.0 341.1L1325.2 341.1L1327.3 341.0L1329.5 340.9L1331.7 340.9L1333.9 340.8L1336.0 340.8L1338.2 340.7L1340.4 340.6L1342.6 340.6L1344.7 340.5L1346.9 340.5L1349.1 340.4L1351.3 340.4L1353.4 340.3L1355.6 340.3L1357.8 340.2L1360.0 340.2L1362.1 340.1L1364.3 340.1L1366.5 340.0L1368.7 340.0L1370.8 340.0L1373.0 339.9L1375.2 339.9L1377.4 339.8L1379.5 339.8L1381.7 339.8L1383.9 339.7L1386.1 339.7L1388.2 339.7L1390.4 339.6L1392.6 339.6L1394.8 339.6L1396.9 339.5L1399.1 339.5L1401.3 339.5L1403.5 339.4L1405.6 339.4L1407.8 339.4L1410.0 339.4L1412.2 339.3L1414.3 339.3L1416.5 339.3L1418.7 339.2L1420.9 339.2L1423.0 339.2L1425.2 339.2L1427.4 339.1L1429.6 339.1L1431.7 339.1L1433.9 339.1L1436.1 339.0L1438.3 339.0L1440.4 339.0L1442.6 339.0L1444.8 338.9L1447.0 338.9L1449.1 338.9L1451.3 338.9L1453.5 338.9L1455.7 338.8L1457.8 338.8L1460.0 338.8L1462.2 338.8L1464.4 338.8L1466.5 338.7L1468.7 338.7L1470.9 338.7L1473.1 338.7L1475.2 338.7L1477.4 338.6L1479.6 338.6L1481.8 338.6L1483.9 338.6L1486.1 338.6L1488.3 338.6L1490.5 338.5L1492.7 338.5L1494.8 338.5L1497.0 338.5L1499.2 338.5L1501.4 338.5L1503.5 338.5L1505.7 338.4L1507.9 338.4L1510.1 338.4L1512.2 338.4L1514.4 338.4L1516.6 338.4L1518.8 338.3L1520.9 338.3L1523.1 338.3L1525.3 338.3L1527.5 338.3L1529.6 338.3L1531.8 338.3L1534.0 338.3L1536.2 338.2L1538.3 338.2L1540.5 338.2L1542.7 338.2L1544.9 338.2L1547.0 338.2L1549.2 338.2L1551.4 338.2L1553.6 338.1L1555.7 338.1L1557.9 338.1L1560.1 338.1L1562.3 338.1L1564.4 338.1L1566.6 338.1L1568.8 338.1L1571.0 338.1L1573.1 338.0L1575.3 338.0L1577.5 338.0L1579.7 338.0L1581.8 338.0L1584.0 338.0L1586.2 338.0L1588.4 338.0L1590.5 338.0L1592.7 338.0L1594.9 337.9L1597.1 337.9L1599.2 337.9L1601.4 337.9L1603.6 337.9L1605.8 337.9L1607.9 337.9L1610.1 337.9L1612.3 337.9L1614.5 337.9L1616.6 337.9L1618.8 337.8L1621.0 337.8L1623.2 337.8L1625.3 337.8L1627.5 337.8L1629.7 337.8L1631.9 337.8L1634.0 337.8L1636.2 337.8L1638.4 337.8L1640.6 337.8L1642.8 337.8L1644.9 337.7L1647.1 337.7L1649.3 337.7L1651.5 337.7L1653.6 337.7L1655.8 337.7L1658.0 337.7L1660.2 337.7L1662.3 337.7L1664.5 337.7L1666.7 337.7L1668.9 337.7L1671.0 337.7L1673.2 337.7L1675.4 337.6L1677.6 337.6L1679.7 337.6L1681.9 337.6L1684.1 337.6L1686.3 337.6L1688.4 337.6L1690.6 337.6L1692.8 337.6L1695.0 337.6L1697.1 337.6L1699.3 337.6L1701.5 337.6L1703.7 337.6L1705.8 337.6L1708.0 337.6L1710.2 337.5L1712.4 337.5L1714.5 337.5L1716.7 337.5L1718.9 337.5L1721.1 337.5L1723.2 337.5L1725.4 337.5L1727.6 337.5L1729.8 337.5L1731.9 337.5L1734.1 337.5L1736.3 337.5L1738.5 337.5L1740.6 337.5L1742.8 337.5L1745.0 337.5L1747.2 337.4L1749.3 337.4L1751.5 337.4L1753.7 337.4L1755.9 337.4L1758.0 337.4L1760.2 337.4L1762.4 337.4L1764.6 337.4L1766.7 337.4L1768.9 337.4L1771.1 337.4L1773.3 337.4L1775.4 337.4L1777.6 337.4L1779.8 337.4L1782.0 337.4L1784.2 337.4L1786.3 337.4L1788.5 337.4L1790.7 337.4L1792.9 337.3L1795.0 337.3L1797.2 337.3L1799.4 337.3L1801.6 337.3L1803.7 337.3L1805.9 337.3L1808.1 337.3L1810.3 337.3L1812.4 337.3L1814.6 337.3L1816.8 337.3L1819.0 337.3"/></g>
</g>
<g id="panel-b">
<g fill="#000"><rect x="250.1" y="674.2" width="1846.7" height="7.6" rx="1.5"/><rect x="250.1" y="1273.0" width="1846.7" height="7.6" rx="1.5"/><rect x="250.1" y="674.2" width="10.4" height="606.4" rx="1.5"/><rect x="2087.1" y="674.2" width="9.7" height="606.4" rx="1.5"/></g>
<path class="t" d="M409.0 1273.0V1264.8 M409.0 681.8V690.0 M562.0 1273.0V1252.1 M562.0 681.8V702.7 M715.0 1273.0V1264.8 M715.0 681.8V690.0 M868.0 1273.0V1252.1 M868.0 681.8V702.7 M1021.0 1273.0V1264.8 M1021.0 681.8V690.0 M1174.0 1273.0V1252.1 M1174.0 681.8V702.7 M1327.0 1273.0V1264.8 M1327.0 681.8V690.0 M1480.0 1273.0V1252.1 M1480.0 681.8V702.7 M1633.0 1273.0V1264.8 M1633.0 681.8V690.0 M1786.0 1273.0V1252.1 M1786.0 681.8V702.7 M1939.0 1273.0V1264.8 M1939.0 681.8V690.0 M255.3 1177.5H281.4 M2092.0 1177.5H2066.2 M255.3 1077.5H268.7 M2092.0 1077.5H2078.9 M255.3 977.5H281.4 M2092.0 977.5H2066.2 M255.3 877.5H268.7 M2092.0 877.5H2078.9 M255.3 777.5H281.4 M2092.0 777.5H2066.2"/>
<path d="M255.3 977.4H2092.0" stroke="#000" stroke-width="7.3" fill="none"/>
<g transform="scale(1.15 1)"><path class="c" stroke="#000080" stroke-width="8.6" d="M222.0 973.3L224.2 973.2L226.4 973.2L228.5 973.1L230.7 973.1L232.9 973.0L235.1 973.0L237.2 972.9L239.4 972.9L241.6 972.8L243.8 972.8L245.9 972.7L248.1 972.7L250.3 972.6L252.5 972.5L254.6 972.5L256.8 972.4L259.0 972.3L261.2 972.3L263.3 972.2L265.5 972.1L267.7 972.0L269.9 972.0L272.0 971.9L274.2 971.8L276.4 971.7L278.6 971.6L280.7 971.5L282.9 971.4L285.1 971.3L287.3 971.2L289.4 971.1L291.6 971.0L293.8 970.9L296.0 970.8L298.1 970.7L300.3 970.6L302.5 970.4L304.6 970.3L306.8 970.2L309.0 970.0L311.2 969.9L313.3 969.7L315.5 969.5L317.7 969.4L319.8 969.2L322.0 969.0L324.2 968.8L326.4 968.6L328.5 968.4L330.7 968.2L332.9 967.9L335.0 967.7L337.2 967.4L339.3 967.2L341.5 966.9L343.7 966.6L345.8 966.3L348.0 966.0L350.1 965.6L352.3 965.3L354.4 964.9L356.6 964.5L358.7 964.1L360.9 963.6L363.0 963.2L365.2 962.7L367.3 962.2L369.4 961.6L371.5 961.1L373.6 960.5L375.8 959.8L377.9 959.2L379.9 958.5L382.0 957.8L384.1 957.0L386.2 956.3L388.2 955.5L390.3 954.6L392.3 953.8L394.4 952.9L396.4 951.9L398.4 951.0L400.4 950.0L402.4 949.0L404.4 947.9L406.3 946.8L408.3 945.8L410.2 944.6L412.2 943.5L414.1 942.3L416.0 941.2L417.9 940.0L419.8 938.7L421.7 937.5L423.6 936.2L425.5 935.0L427.3 933.7L429.2 932.4L431.1 931.1L432.9 929.8L434.7 928.4L436.6 927.1L438.4 925.7L440.2 924.3L442.0 922.9L443.8 921.5L445.6 920.1L447.4 918.7L449.2 917.2L450.9 915.8L452.7 914.3L454.4 912.8L456.2 911.3L457.9 909.8L459.7 908.3L461.4 906.8L463.1 905.2L464.8 903.7L466.5 902.1L468.2 900.6L469.9 899.0L471.6 897.4L473.2 895.8L474.9 894.2L476.6 892.5L478.2 890.9L479.9 889.3L481.5 887.6L483.1 886.0L484.7 884.3L486.4 882.6L488.0 880.9L489.6 879.2L491.2 877.5L492.7 875.8L494.3 874.1L495.9 872.4L497.5 870.6L499.0 868.9L500.6 867.2L502.1 865.4L503.7 863.6L505.2 861.9L506.8 860.1L508.3 858.3L509.9 856.6L511.4 854.8L512.9 853.0L514.4 851.2L516.0 849.4L517.5 847.6L519.0 845.8L520.5 844.0L522.0 842.2L523.5 840.4L525.0 838.6L526.5 836.8L528.0 835.0L529.5 833.2L531.0 831.4L532.5 829.6L534.0 827.7L535.5 825.9L537.0 824.1L538.5 822.3L540.0 820.4L541.5 818.6L543.0 816.8L544.4 815.0L545.9 813.1L547.4 811.3L548.9 809.5L550.4 807.7L551.9 805.8L553.4 804.0L554.8 802.2L556.3 800.3L557.8 798.5L559.3 796.7L560.8 794.8L562.3 793.0L563.7 791.2L565.2 789.4L566.7 787.5L568.2 785.7L569.7 783.9L571.2 782.0L572.7 780.2L574.2 778.4L575.6 776.6L577.1 774.8L578.6 772.9L580.1 771.1L581.6 769.3L583.2 767.5L584.7 765.7L586.2 763.9L587.7 762.2L589.3 760.4L590.8 758.7L592.4 756.9L594.0 755.2L595.6 753.6L597.3 752.0L599.0 750.4L600.7 748.9L602.6 747.5L604.5 746.3L606.5 745.3L608.6 744.7L610.7 744.7L612.8 745.3L614.7 746.6L616.3 748.3L617.6 750.3L618.7 752.4L619.8 754.7L620.7 756.9L621.5 759.3L622.2 761.6L622.9 764.0L623.5 766.4L624.1 768.8L624.7 771.2L625.2 773.6L625.8 776.1L626.2 778.5L626.7 780.9L627.2 783.4L627.6 785.8L628.0 788.3L628.4 790.8L628.8 793.2L629.2 795.7L629.6 798.1L630.0 800.6L630.3 803.1L630.7 805.5L631.0 808.0L631.3 810.5L631.7 813.0L632.0 815.4L632.3 817.9L632.6 820.4L633.0 822.9L633.3 825.3L633.6 827.8L633.9 830.3L634.2 832.8L634.5 835.2L634.8 837.7L635.1 840.2L635.4 842.7L635.7 845.2L635.9 847.6L636.2 850.1L636.5 852.6L636.8 855.1L637.1 857.6L637.4 860.0L637.7 862.5L638.0 865.0L638.2 867.5L638.5 870.0L638.8 872.5L639.1 874.9L639.4 877.4L639.7 879.9L640.0 882.4L640.3 884.9L640.6 887.3L640.9 889.8L641.2 892.3L641.5 894.8L641.8 897.2L642.1 899.7L642.4 902.2L642.7 904.7L643.1 907.1L643.4 909.6L643.7 912.1L644.1 914.6L644.4 917.0L644.8 919.5L645.1 922.0L645.5 924.4L645.9 926.9L646.3 929.4L646.7 931.8L647.1 934.3L647.5 936.7L647.9 939.2L648.4 941.6L648.8 944.1L649.3 946.5L649.9 948.9L650.4 951.4L651.0 953.8L651.6 956.2L652.2 958.6L652.9 960.9L653.7 963.3L654.5 965.6L655.4 967.9L656.4 970.1L657.6 972.2L659.0 974.2L660.6 975.8L662.4 977.1L664.5 977.7L666.7 977.7L668.8 977.1L670.9 976.2L672.8 975.1L674.7 973.8L676.5 972.4L678.3 971.0L680.0 969.5L681.8 968.0L683.5 966.5L685.3 965.1L687.1 963.7L688.9 962.4L690.9 961.1L692.8 960.1L694.9 959.4L697.1 959.0L699.2 959.3L701.2 960.2L703.0 961.6L704.5 963.4L705.8 965.4L706.9 967.6L707.9 969.8L708.8 972.1L709.6 974.4L710.4 976.8L711.1 979.1L711.7 981.5L712.3 983.9L712.9 986.3L713.4 988.8L713.9 991.2L714.4 993.6L714.9 996.1L715.4 998.5L715.8 1001.0L716.2 1003.4L716.7 1005.9L717.1 1008.3L717.4 1010.8L717.8 1013.3L718.2 1015.7L718.6 1018.2L718.9 1020.7L719.3 1023.1L719.6 1025.6L720.0 1028.1L720.3 1030.6L720.6 1033.0L720.9 1035.5L721.3 1038.0L721.6 1040.5L721.9 1042.9L722.2 1045.4L722.5 1047.9L722.8 1050.4L723.1 1052.8L723.4 1055.3L723.7 1057.8L724.0 1060.3L724.3 1062.8L724.6 1065.2L724.9 1067.7L725.2 1070.2L725.5 1072.7L725.8 1075.2L726.1 1077.6L726.4 1080.1L726.7 1082.6L726.9 1085.1L727.2 1087.6L727.5 1090.0L727.8 1092.5L728.1 1095.0L728.4 1097.5L728.7 1100.0L729.0 1102.4L729.3 1104.9L729.6 1107.4L730.0 1109.9L730.3 1112.3L730.6 1114.8L730.9 1117.3L731.2 1119.8L731.6 1122.2L731.9 1124.7L732.2 1127.2L732.6 1129.6L732.9 1132.1L733.3 1134.6L733.7 1137.1L734.0 1139.5L734.4 1142.0L734.8 1144.4L735.2 1146.9L735.7 1149.4L736.1 1151.8L736.5 1154.3L737.0 1156.7L737.5 1159.1L738.0 1161.6L738.5 1164.0L739.1 1166.4L739.6 1168.8L740.3 1171.2L740.9 1173.6L741.6 1176.0L742.4 1178.3L743.2 1180.6L744.2 1182.9L745.2 1185.1L746.4 1187.2L747.8 1189.1L749.4 1190.8L751.3 1192.0L753.4 1192.6L755.6 1192.5L757.7 1191.9L759.7 1191.0L761.6 1189.8L763.4 1188.4L765.2 1186.9L766.9 1185.4L768.6 1183.8L770.2 1182.1L771.8 1180.4L773.4 1178.7L775.0 1177.0L776.5 1175.2L778.1 1173.5L779.6 1171.7L781.1 1169.9L782.6 1168.1L784.1 1166.3L785.6 1164.5L787.2 1162.7L788.7 1160.9L790.2 1159.1L791.6 1157.3L793.1 1155.5L794.6 1153.6L796.1 1151.8L797.6 1150.0L799.1 1148.2L800.6 1146.3L802.1 1144.5L803.5 1142.7L805.0 1140.8L806.5 1139.0L808.0 1137.2L809.5 1135.3L811.0 1133.5L812.4 1131.7L813.9 1129.8L815.4 1128.0L816.9 1126.2L818.4 1124.4L819.9 1122.5L821.4 1120.7L822.8 1118.9L824.3 1117.0L825.8 1115.2L827.3 1113.4L828.8 1111.6L830.3 1109.7L831.8 1107.9L833.2 1106.1L834.7 1104.3L836.2 1102.4L837.7 1100.6L839.2 1098.8L840.7 1097.0L842.2 1095.2L843.7 1093.3L845.2 1091.5L846.7 1089.7L848.2 1087.9L849.7 1086.1L851.2 1084.3L852.7 1082.5L854.3 1080.7L855.8 1078.9L857.3 1077.1L858.8 1075.3L860.3 1073.6L861.9 1071.8L863.4 1070.0L865.0 1068.2L866.5 1066.5L868.1 1064.7L869.6 1063.0L871.2 1061.2L872.7 1059.5L874.3 1057.8L875.9 1056.0L877.5 1054.3L879.1 1052.6L880.6 1050.9L882.3 1049.2L883.9 1047.5L885.5 1045.8L887.1 1044.2L888.7 1042.5L890.3 1040.8L892.0 1039.2L893.6 1037.5L895.2 1035.9L896.9 1034.3L898.5 1032.6L900.2 1031.0L901.8 1029.4L903.5 1027.7L905.2 1026.1L906.8 1024.5L908.5 1022.9L910.1 1021.3L911.8 1019.6L913.4 1018.0L915.1 1016.4L916.7 1014.8L918.4 1013.1L920.0 1011.5L921.7 1009.8L923.3 1008.2L924.9 1006.5L926.6 1004.9L928.2 1003.2L929.8 1001.5L931.4 999.9L933.0 998.2L934.6 996.5L936.2 994.8L937.8 993.1L939.4 991.4L941.0 989.7L942.6 987.9L944.2 986.2L945.8 984.5L947.3 982.8L948.9 981.0L950.5 979.3L952.0 977.6L953.6 975.8L955.1 974.1L956.7 972.3L958.3 970.6L959.8 968.8L961.4 967.1L962.9 965.3L964.5 963.6L966.0 961.8L967.6 960.1L969.1 958.3L970.7 956.6L972.3 954.8L973.8 953.1L975.4 951.3L976.9 949.6L978.5 947.8L980.0 946.1L981.6 944.3L983.2 942.6L984.7 940.9L986.3 939.1L987.9 937.4L989.4 935.6L991.0 933.9L992.5 932.1L994.1 930.4L995.7 928.7L997.2 926.9L998.8 925.2L1000.4 923.4L1001.9 921.7L1003.5 919.9L1005.0 918.2L1006.6 916.5L1008.2 914.7L1009.7 913.0L1011.3 911.3L1012.9 909.5L1014.5 907.8L1016.1 906.1L1017.7 904.4L1019.3 902.7L1020.9 901.1L1022.5 899.4L1024.2 897.8L1025.9 896.3L1027.7 894.8L1029.5 893.4L1031.4 892.2L1033.3 891.1L1035.4 890.4L1037.6 890.1L1039.7 890.4L1041.7 891.3L1043.5 892.8L1045.0 894.6L1046.3 896.6L1047.5 898.7L1048.6 900.9L1049.5 903.1L1050.4 905.4L1051.2 907.7L1052.0 910.1L1052.7 912.4L1053.4 914.8L1054.1 917.2L1054.7 919.6L1055.4 922.0L1056.0 924.4L1056.6 926.8L1057.2 929.2L1057.7 931.6L1058.3 934.0L1058.9 936.4L1059.4 938.8L1060.0 941.3L1060.6 943.7L1061.1 946.1L1061.7 948.5L1062.3 950.9L1062.8 953.3L1063.4 955.8L1064.0 958.2L1064.6 960.6L1065.3 963.0L1065.9 965.3L1066.6 967.7L1067.3 970.1L1068.0 972.5L1068.8 974.8L1069.6 977.1L1070.5 979.4L1071.4 981.7L1072.4 983.9L1073.6 986.0L1074.9 988.0L1076.4 989.8L1078.1 991.3L1080.1 992.3L1082.3 992.7L1084.4 992.4L1086.5 991.7L1088.5 990.7L1090.4 989.4L1092.2 988.1L1094.0 986.6L1095.7 985.1L1097.4 983.5L1099.1 982.0L1100.8 980.4L1102.5 978.8L1104.2 977.2L1105.9 975.7L1107.7 974.2L1109.5 972.9L1111.3 971.6L1113.3 970.5L1115.4 969.7L1117.5 969.4L1119.7 969.7L1121.7 970.6L1123.5 972.0L1125.0 973.8L1126.3 975.8L1127.5 977.9L1128.5 980.1L1129.5 982.3L1130.4 984.6L1131.2 986.9L1132.0 989.3L1132.7 991.6L1133.4 994.0L1134.0 996.4L1134.7 998.8L1135.3 1001.2L1135.9 1003.6L1136.5 1006.0L1137.1 1008.4L1137.6 1010.8L1138.2 1013.3L1138.7 1015.7L1139.3 1018.1L1139.8 1020.5L1140.4 1022.9L1140.9 1025.4L1141.5 1027.8L1142.0 1030.2L1142.6 1032.6L1143.2 1035.0L1143.7 1037.5L1144.3 1039.9L1144.9 1042.3L1145.5 1044.7L1146.1 1047.1L1146.8 1049.5L1147.5 1051.8L1148.2 1054.2L1148.9 1056.6L1149.7 1058.9L1150.5 1061.2L1151.4 1063.5L1152.4 1065.7L1153.5 1067.9L1154.7 1070.0L1156.0 1071.9L1157.6 1073.6L1159.4 1075.0L1161.5 1075.8L1163.7 1076.0L1165.8 1075.6L1167.9 1074.8L1169.8 1073.7L1171.7 1072.5L1173.5 1071.1L1175.3 1069.7L1177.1 1068.2L1178.8 1066.6L1180.5 1065.1L1182.2 1063.5L1183.8 1061.9L1185.5 1060.3L1187.2 1058.6L1188.8 1057.0L1190.5 1055.4L1192.1 1053.8L1193.8 1052.2L1195.5 1050.6L1197.2 1049.0L1198.9 1047.4L1200.6 1045.9L1202.3 1044.3L1204.0 1042.8L1205.7 1041.2L1207.4 1039.7L1209.2 1038.2L1210.9 1036.8L1212.7 1035.3L1214.5 1033.8L1216.2 1032.4L1218.0 1031.0L1219.8 1029.6L1221.6 1028.2L1223.5 1026.8L1225.3 1025.4L1227.1 1024.1L1229.0 1022.8L1230.8 1021.5L1232.7 1020.2L1234.6 1018.9L1236.4 1017.6L1238.3 1016.4L1240.2 1015.1L1242.1 1013.9L1244.0 1012.7L1246.0 1011.6L1247.9 1010.4L1249.8 1009.3L1251.8 1008.2L1253.7 1007.1L1255.7 1006.0L1257.7 1005.0L1259.7 1004.0L1261.7 1003.0L1263.7 1002.1L1265.7 1001.1L1267.8 1000.3L1269.8 999.4L1271.9 998.6L1273.9 997.8L1276.0 997.0L1278.1 996.3L1280.2 995.6L1282.3 994.9L1284.4 994.2L1286.5 993.6L1288.6 993.1L1290.7 992.5L1292.8 992.0L1295.0 991.5L1297.1 991.0L1299.2 990.5L1301.4 990.1L1303.5 989.7L1305.7 989.3L1307.8 989.0L1310.0 988.6L1312.1 988.3L1314.3 988.0L1316.5 987.7L1318.6 987.4L1320.8 987.1L1323.0 986.9L1325.1 986.6L1327.3 986.4L1329.5 986.2L1331.6 986.0L1333.8 985.8L1336.0 985.6L1338.1 985.4L1340.3 985.2L1342.5 985.1L1344.7 984.9L1346.8 984.7L1349.0 984.6L1351.2 984.5L1353.3 984.3L1355.5 984.2L1357.7 984.1L1359.9 983.9L1362.0 983.8L1364.2 983.7L1366.4 983.6L1368.6 983.5L1370.7 983.4L1372.9 983.3L1375.1 983.2L1377.3 983.1L1379.4 983.0L1381.6 983.0L1383.8 982.9L1386.0 982.8L1388.1 982.7L1390.3 982.7L1392.5 982.6L1394.7 982.5L1396.8 982.4L1399.0 982.4L1401.2 982.3L1403.4 982.3L1405.5 982.2L1407.7 982.1L1409.9 982.1L1412.1 982.0L1414.2 982.0L1416.4 981.9L1418.6 981.9L1420.8 981.8L1422.9 981.8L1425.1 981.7L1427.3 981.7L1429.5 981.6L1431.6 981.6L1433.8 981.5L1436.0 981.5L1438.2 981.4L1440.3 981.4L1442.5 981.4L1444.7 981.3L1446.9 981.3L1449.0 981.2L1451.2 981.2L1453.4 981.2L1455.6 981.1L1457.7 981.1L1459.9 981.1L1462.1 981.0L1464.3 981.0L1466.4 981.0L1468.6 980.9L1470.8 980.9L1473.0 980.9L1475.2 980.9L1477.3 980.8L1479.5 980.8L1481.7 980.8L1483.9 980.7L1486.0 980.7L1488.2 980.7L1490.4 980.7L1492.6 980.6L1494.7 980.6L1496.9 980.6L1499.1 980.6L1501.3 980.5L1503.4 980.5L1505.6 980.5L1507.8 980.5L1510.0 980.4L1512.1 980.4L1514.3 980.4L1516.5 980.4L1518.7 980.4L1520.8 980.3L1523.0 980.3L1525.2 980.3L1527.4 980.3L1529.5 980.3L1531.7 980.2L1533.9 980.2L1536.1 980.2L1538.3 980.2L1540.4 980.2L1542.6 980.1L1544.8 980.1L1547.0 980.1L1549.1 980.1L1551.3 980.1L1553.5 980.1L1555.7 980.0L1557.8 980.0L1560.0 980.0L1562.2 980.0L1564.4 980.0L1566.5 980.0L1568.7 979.9L1570.9 979.9L1573.1 979.9L1575.2 979.9L1577.4 979.9L1579.6 979.9L1581.8 979.9L1583.9 979.8L1586.1 979.8L1588.3 979.8L1590.5 979.8L1592.7 979.8L1594.8 979.8L1597.0 979.8L1599.2 979.7L1601.4 979.7L1603.5 979.7L1605.7 979.7L1607.9 979.7L1610.1 979.7L1612.2 979.7L1614.4 979.7L1616.6 979.6L1618.8 979.6L1620.9 979.6L1623.1 979.6L1625.3 979.6L1627.5 979.6L1629.6 979.6L1631.8 979.6L1634.0 979.6L1636.2 979.5L1638.3 979.5L1640.5 979.5L1642.7 979.5L1644.9 979.5L1647.1 979.5L1649.2 979.5L1651.4 979.5L1653.6 979.5L1655.8 979.5L1657.9 979.4L1660.1 979.4L1662.3 979.4L1664.5 979.4L1666.6 979.4L1668.8 979.4L1671.0 979.4L1673.2 979.4L1675.3 979.4L1677.5 979.4L1679.7 979.4L1681.9 979.3L1684.0 979.3L1686.2 979.3L1688.4 979.3L1690.6 979.3L1692.7 979.3L1694.9 979.3L1697.1 979.3L1699.3 979.3L1701.5 979.3L1703.6 979.3L1705.8 979.3L1708.0 979.2L1710.2 979.2L1712.3 979.2L1714.5 979.2L1716.7 979.2L1718.9 979.2L1721.0 979.2L1723.2 979.2L1725.4 979.2L1727.6 979.2L1729.7 979.2L1731.9 979.2L1734.1 979.2L1736.3 979.2L1738.4 979.1L1740.6 979.1L1742.8 979.1L1745.0 979.1L1747.1 979.1L1749.3 979.1L1751.5 979.1L1753.7 979.1L1755.9 979.1L1758.0 979.1L1760.2 979.1L1762.4 979.1L1764.6 979.1L1766.7 979.1L1768.9 979.1L1771.1 979.1L1773.3 979.0L1775.4 979.0L1777.6 979.0L1779.8 979.0L1782.0 979.0L1784.1 979.0L1786.3 979.0L1788.5 979.0L1790.7 979.0L1792.8 979.0L1795.0 979.0L1797.2 979.0L1799.4 979.0L1801.5 979.0L1803.7 979.0L1805.9 979.0L1808.1 979.0L1810.3 978.9L1812.4 978.9L1814.6 978.9L1816.8 978.9L1819.0 978.9"/></g>
<path d="M776.3 716.9V978" stroke="#008000" stroke-width="5" fill="none" stroke-dasharray="16 11.9" stroke-dashoffset="0"/>
<path d="M1274.2 853.8V978" stroke="#008000" stroke-width="5" fill="none" stroke-dasharray="16 11.9" stroke-dashoffset="0"/>
<g transform="scale(1.15 1)"><path class="c" stroke="#ff0000" stroke-width="8.7" d="M222.0 978.5L224.2 978.5L226.3 978.6L228.5 978.6L230.7 978.6L232.9 978.6L235.0 978.6L237.2 978.7L239.4 978.7L241.6 978.7L243.7 978.7L245.9 978.8L248.1 978.8L250.3 978.8L252.4 978.9L254.6 978.9L256.8 978.9L259.0 978.9L261.1 979.0L263.3 979.0L265.5 979.0L267.7 979.1L269.8 979.1L272.0 979.2L274.2 979.2L276.3 979.2L278.5 979.3L280.7 979.3L282.9 979.4L285.0 979.4L287.2 979.5L289.4 979.5L291.6 979.6L293.7 979.7L295.9 979.7L298.1 979.8L300.3 979.9L302.4 979.9L304.6 980.0L306.8 980.1L308.9 980.2L311.1 980.3L313.3 980.4L315.5 980.5L317.6 980.6L319.8 980.7L322.0 980.8L324.2 980.9L326.3 981.0L328.5 981.2L330.7 981.3L332.8 981.5L335.0 981.6L337.2 981.8L339.3 982.0L341.5 982.2L343.7 982.4L345.8 982.6L348.0 982.8L350.2 983.0L352.3 983.3L354.5 983.6L356.7 983.8L358.8 984.1L361.0 984.5L363.1 984.8L365.3 985.2L367.4 985.5L369.6 985.9L371.7 986.4L373.9 986.8L376.0 987.3L378.1 987.8L380.2 988.3L382.4 988.8L384.5 989.4L386.6 990.0L388.7 990.6L390.8 991.3L392.9 992.0L395.0 992.7L397.1 993.4L399.1 994.2L401.2 994.9L403.3 995.7L405.3 996.5L407.4 997.4L409.4 998.2L411.5 999.1L413.5 999.9L415.5 1000.8L417.6 1001.7L419.6 1002.6L421.6 1003.5L423.6 1004.4L425.7 1005.3L427.7 1006.2L429.7 1007.1L431.8 1008.0L433.8 1008.9L435.8 1009.8L437.8 1010.7L439.9 1011.6L441.9 1012.5L444.0 1013.3L446.0 1014.2L448.1 1015.0L450.1 1015.8L452.2 1016.6L454.2 1017.4L456.3 1018.2L458.4 1018.9L460.5 1019.6L462.5 1020.3L464.6 1021.0L466.7 1021.7L468.8 1022.3L470.9 1023.0L473.0 1023.5L475.2 1024.1L477.3 1024.7L479.4 1025.2L481.5 1025.7L483.7 1026.1L485.8 1026.6L488.0 1027.0L490.1 1027.4L492.3 1027.7L494.4 1028.1L496.6 1028.4L498.7 1028.7L500.9 1028.9L503.1 1029.2L505.2 1029.4L507.4 1029.6L509.6 1029.8L511.7 1030.0L513.9 1030.1L516.1 1030.3L518.2 1030.4L520.4 1030.5L522.6 1030.6L524.8 1030.7L526.9 1030.8L529.1 1030.9L531.3 1031.0L533.4 1031.0L535.6 1031.1L537.8 1031.1L540.0 1031.2L542.1 1031.2L544.3 1031.2L546.5 1031.2L548.7 1031.3L550.8 1031.3L553.0 1031.3L555.2 1031.3L557.4 1031.3L559.5 1031.3L561.7 1031.3L563.9 1031.3L566.1 1031.3L568.2 1031.3L570.4 1031.3L572.6 1031.3L574.8 1031.2L576.9 1031.2L579.1 1031.1L581.3 1031.0L583.4 1030.9L585.6 1030.8L587.8 1030.6L589.9 1030.4L592.1 1030.1L594.3 1029.7L596.4 1029.2L598.5 1028.6L600.6 1027.8L602.6 1026.8L604.5 1025.7L606.3 1024.3L608.0 1022.8L609.6 1021.0L611.0 1019.1L612.3 1017.1L613.5 1015.1L614.6 1012.9L615.6 1010.7L616.5 1008.4L617.3 1006.1L618.1 1003.8L618.9 1001.4L619.6 999.0L620.2 996.7L620.8 994.3L621.4 991.9L622.0 989.4L622.5 987.0L623.0 984.6L623.5 982.1L624.0 979.7L624.4 977.3L624.9 974.8L625.3 972.4L625.7 969.9L626.1 967.4L626.5 965.0L626.8 962.5L627.2 960.1L627.6 957.6L627.9 955.1L628.3 952.7L628.6 950.2L628.9 947.7L629.3 945.2L629.6 942.8L629.9 940.3L630.2 937.8L630.5 935.3L630.8 932.9L631.1 930.4L631.4 927.9L631.7 925.4L631.9 922.9L632.2 920.5L632.5 918.0L632.8 915.5L633.0 913.0L633.3 910.5L633.6 908.1L633.8 905.6L634.1 903.1L634.4 900.6L634.6 898.1L634.9 895.7L635.1 893.2L635.4 890.7L635.6 888.2L635.9 885.7L636.2 883.2L636.4 880.8L636.7 878.3L636.9 875.8L637.2 873.3L637.4 870.8L637.7 868.3L637.9 865.9L638.2 863.4L638.4 860.9L638.7 858.4L638.9 855.9L639.2 853.4L639.4 851.0L639.7 848.5L639.9 846.0L640.2 843.5L640.5 841.0L640.7 838.5L641.0 836.1L641.2 833.6L641.5 831.1L641.8 828.6L642.0 826.1L642.3 823.7L642.6 821.2L642.9 818.7L643.1 816.2L643.4 813.7L643.7 811.3L644.0 808.8L644.3 806.3L644.6 803.8L644.9 801.4L645.2 798.9L645.5 796.4L645.8 793.9L646.2 791.5L646.5 789.0L646.8 786.5L647.2 784.1L647.5 781.6L647.9 779.1L648.3 776.7L648.7 774.2L649.0 771.7L649.4 769.3L649.9 766.8L650.3 764.4L650.7 761.9L651.2 759.5L651.7 757.0L652.2 754.6L652.7 752.2L653.2 749.8L653.8 747.3L654.4 744.9L655.0 742.5L655.7 740.2L656.4 737.8L657.2 735.5L658.0 733.1L658.8 730.9L659.8 728.6L660.8 726.4L662.0 724.3L663.2 722.2L664.6 720.3L666.1 718.5L667.8 716.9L669.6 715.5L671.5 714.4L673.5 713.5L675.6 712.8L677.8 712.4L679.9 712.2L682.1 712.2L684.3 712.4L686.4 712.9L688.5 713.6L690.5 714.5L692.5 715.6L694.3 717.0L696.0 718.5L697.6 720.3L699.0 722.2L700.3 724.2L701.5 726.2L702.6 728.4L703.5 730.6L704.5 732.9L705.3 735.2L706.1 737.5L706.9 739.9L707.6 742.2L708.2 744.6L708.8 747.0L709.4 749.4L710.0 751.8L710.5 754.3L711.1 756.7L711.5 759.1L712.0 761.6L712.5 764.0L712.9 766.5L713.4 768.9L713.8 771.4L714.2 773.8L714.6 776.3L715.0 778.7L715.3 781.2L715.7 783.7L716.1 786.1L716.4 788.6L716.7 791.1L717.1 793.5L717.4 796.0L717.7 798.5L718.0 801.0L718.4 803.4L718.7 805.9L719.0 808.4L719.3 810.9L719.6 813.3L719.9 815.8L720.1 818.3L720.4 820.8L720.7 823.2L721.0 825.7L721.3 828.2L721.5 830.7L721.8 833.2L722.1 835.6L722.3 838.1L722.6 840.6L722.9 843.1L723.1 845.6L723.4 848.1L723.7 850.5L723.9 853.0L724.2 855.5L724.4 858.0L724.7 860.5L725.0 863.0L725.2 865.4L725.5 867.9L725.7 870.4L726.0 872.9L726.2 875.4L726.5 877.8L726.7 880.3L727.0 882.8L727.3 885.3L727.5 887.8L727.8 890.3L728.0 892.7L728.3 895.2L728.5 897.7L728.8 900.2L729.1 902.7L729.3 905.2L729.6 907.6L729.9 910.1L730.1 912.6L730.4 915.1L730.7 917.6L731.0 920.0L731.3 922.5L731.5 925.0L731.8 927.5L732.1 930.0L732.4 932.4L732.7 934.9L733.0 937.4L733.3 939.9L733.6 942.3L733.9 944.8L734.3 947.3L734.6 949.7L734.9 952.2L735.3 954.7L735.6 957.2L736.0 959.6L736.3 962.1L736.7 964.6L737.1 967.0L737.5 969.5L737.9 971.9L738.3 974.4L738.7 976.8L739.2 979.3L739.6 981.7L740.1 984.2L740.6 986.6L741.1 989.0L741.6 991.5L742.2 993.9L742.8 996.3L743.4 998.7L744.0 1001.1L744.7 1003.4L745.4 1005.8L746.2 1008.1L747.0 1010.4L747.9 1012.7L748.9 1015.0L750.0 1017.1L751.1 1019.3L752.4 1021.3L753.8 1023.2L755.3 1025.0L756.9 1026.7L758.6 1028.2L760.5 1029.5L762.5 1030.6L764.5 1031.5L766.6 1032.2L768.7 1032.8L770.8 1033.3L772.9 1033.7L775.1 1034.0L777.3 1034.2L779.4 1034.4L781.6 1034.6L783.8 1034.7L785.9 1034.8L788.1 1034.9L790.3 1034.9L792.5 1035.0L794.6 1035.0L796.8 1035.1L799.0 1035.1L801.2 1035.1L803.3 1035.1L805.5 1035.1L807.7 1035.1L809.9 1035.1L812.0 1035.1L814.2 1035.1L816.4 1035.1L818.6 1035.1L820.7 1035.1L822.9 1035.1L825.1 1035.1L827.3 1035.0L829.4 1035.0L831.6 1035.0L833.8 1034.9L835.9 1034.9L838.1 1034.8L840.3 1034.8L842.5 1034.7L844.6 1034.7L846.8 1034.6L849.0 1034.5L851.2 1034.4L853.3 1034.3L855.5 1034.1L857.7 1034.0L859.8 1033.8L862.0 1033.6L864.2 1033.4L866.3 1033.2L868.5 1033.0L870.7 1032.7L872.8 1032.4L875.0 1032.1L877.1 1031.8L879.3 1031.4L881.4 1031.0L883.6 1030.6L885.7 1030.2L887.9 1029.8L890.0 1029.3L892.1 1028.8L894.3 1028.3L896.4 1027.8L898.5 1027.2L900.6 1026.7L902.8 1026.2L904.9 1025.6L907.0 1025.1L909.1 1024.5L911.2 1024.0L913.4 1023.4L915.5 1022.9L917.6 1022.4L919.7 1021.9L921.9 1021.4L924.0 1020.9L926.2 1020.5L928.3 1020.1L930.4 1019.7L932.6 1019.3L934.7 1018.9L936.9 1018.6L939.1 1018.3L941.2 1018.1L943.4 1017.8L945.6 1017.6L947.7 1017.5L949.9 1017.3L952.1 1017.2L954.2 1017.1L956.4 1017.0L958.6 1017.0L960.8 1017.0L962.9 1017.0L965.1 1017.0L967.3 1017.1L969.5 1017.2L971.6 1017.3L973.8 1017.4L976.0 1017.5L978.1 1017.7L980.3 1017.9L982.5 1018.1L984.6 1018.3L986.8 1018.5L989.0 1018.7L991.1 1018.9L993.3 1019.1L995.5 1019.3L997.6 1019.5L999.8 1019.7L1002.0 1019.9L1004.1 1020.1L1006.3 1020.2L1008.5 1020.4L1010.7 1020.5L1012.8 1020.6L1015.0 1020.6L1017.2 1020.5L1019.3 1020.4L1021.5 1020.2L1023.7 1019.9L1025.8 1019.5L1027.9 1018.9L1030.0 1018.0L1032.0 1017.0L1033.8 1015.8L1035.6 1014.3L1037.2 1012.6L1038.7 1010.8L1040.1 1008.9L1041.3 1006.8L1042.4 1004.7L1043.5 1002.5L1044.5 1000.3L1045.4 998.0L1046.2 995.7L1047.0 993.4L1047.8 991.0L1048.5 988.6L1049.2 986.3L1049.8 983.9L1050.4 981.5L1051.0 979.1L1051.6 976.7L1052.2 974.3L1052.7 971.8L1053.2 969.4L1053.8 967.0L1054.3 964.6L1054.8 962.1L1055.2 959.7L1055.7 957.2L1056.2 954.8L1056.7 952.4L1057.1 949.9L1057.6 947.5L1058.0 945.0L1058.5 942.6L1058.9 940.1L1059.4 937.7L1059.8 935.2L1060.2 932.8L1060.7 930.3L1061.1 927.9L1061.6 925.5L1062.0 923.0L1062.5 920.6L1062.9 918.1L1063.4 915.7L1063.8 913.2L1064.3 910.8L1064.8 908.3L1065.3 905.9L1065.8 903.5L1066.3 901.0L1066.8 898.6L1067.3 896.2L1067.9 893.8L1068.4 891.3L1069.0 888.9L1069.6 886.5L1070.2 884.1L1070.8 881.7L1071.5 879.4L1072.2 877.0L1073.0 874.7L1073.7 872.3L1074.6 870.0L1075.5 867.7L1076.4 865.5L1077.4 863.3L1078.5 861.1L1079.8 859.0L1081.1 857.1L1082.5 855.2L1084.1 853.5L1085.8 852.0L1087.7 850.6L1089.6 849.5L1091.7 848.7L1093.8 848.0L1095.9 847.6L1098.1 847.3L1100.2 847.2L1102.4 847.3L1104.6 847.6L1106.7 848.1L1108.8 848.8L1110.8 849.7L1112.8 850.8L1114.6 852.1L1116.3 853.7L1117.8 855.4L1119.3 857.3L1120.6 859.3L1121.8 861.4L1122.9 863.6L1123.9 865.8L1124.8 868.0L1125.7 870.3L1126.5 872.6L1127.3 875.0L1128.0 877.3L1128.7 879.7L1129.4 882.1L1130.0 884.5L1130.6 886.9L1131.2 889.3L1131.8 891.7L1132.3 894.1L1132.9 896.5L1133.4 899.0L1133.9 901.4L1134.4 903.8L1134.9 906.3L1135.4 908.7L1135.8 911.1L1136.3 913.6L1136.7 916.0L1137.2 918.5L1137.6 920.9L1138.1 923.4L1138.5 925.8L1139.0 928.3L1139.4 930.7L1139.8 933.2L1140.3 935.6L1140.7 938.1L1141.1 940.5L1141.6 943.0L1142.0 945.4L1142.4 947.9L1142.9 950.3L1143.3 952.8L1143.8 955.2L1144.2 957.7L1144.7 960.1L1145.2 962.5L1145.7 965.0L1146.1 967.4L1146.6 969.8L1147.1 972.3L1147.7 974.7L1148.2 977.1L1148.8 979.5L1149.3 982.0L1149.9 984.4L1150.5 986.8L1151.2 989.2L1151.8 991.5L1152.5 993.9L1153.3 996.3L1154.0 998.6L1154.9 1000.9L1155.7 1003.2L1156.7 1005.4L1157.7 1007.6L1158.8 1009.8L1160.1 1011.9L1161.4 1013.8L1162.9 1015.7L1164.5 1017.4L1166.2 1018.8L1168.1 1020.1L1170.1 1021.1L1172.2 1021.9L1174.3 1022.4L1176.4 1022.8L1178.6 1023.0L1180.8 1023.0L1182.9 1022.9L1185.1 1022.8L1187.3 1022.5L1189.4 1022.2L1191.6 1021.8L1193.7 1021.4L1195.8 1020.9L1198.0 1020.3L1200.1 1019.8L1202.2 1019.1L1204.3 1018.5L1206.4 1017.8L1208.5 1017.1L1210.5 1016.3L1212.6 1015.6L1214.7 1014.8L1216.7 1013.9L1218.8 1013.1L1220.8 1012.3L1222.8 1011.4L1224.9 1010.5L1226.9 1009.6L1228.9 1008.7L1231.0 1007.8L1233.0 1006.9L1235.0 1005.9L1237.0 1005.0L1239.0 1004.1L1241.1 1003.2L1243.1 1002.3L1245.1 1001.3L1247.1 1000.4L1249.2 999.5L1251.2 998.7L1253.2 997.8L1255.3 996.9L1257.3 996.1L1259.4 995.3L1261.5 994.5L1263.5 993.7L1265.6 993.0L1267.7 992.2L1269.8 991.5L1271.8 990.9L1273.9 990.2L1276.1 989.6L1278.2 989.0L1280.3 988.4L1282.4 987.9L1284.5 987.4L1286.7 986.9L1288.8 986.4L1290.9 986.0L1293.1 985.6L1295.2 985.2L1297.4 984.8L1299.5 984.4L1301.7 984.1L1303.8 983.8L1306.0 983.5L1308.2 983.2L1310.3 983.0L1312.5 982.7L1314.7 982.5L1316.8 982.3L1319.0 982.1L1321.2 981.9L1323.3 981.7L1325.5 981.5L1327.7 981.4L1329.8 981.2L1332.0 981.1L1334.2 980.9L1336.3 980.8L1338.5 980.7L1340.7 980.6L1342.9 980.5L1345.0 980.4L1347.2 980.3L1349.4 980.2L1351.6 980.1L1353.7 980.0L1355.9 979.9L1358.1 979.8L1360.2 979.8L1362.4 979.7L1364.6 979.6L1366.8 979.6L1368.9 979.5L1371.1 979.4L1373.3 979.4L1375.5 979.3L1377.6 979.3L1379.8 979.2L1382.0 979.2L1384.2 979.1L1386.3 979.1L1388.5 979.1L1390.7 979.0L1392.8 979.0L1395.0 978.9L1397.2 978.9L1399.4 978.9L1401.5 978.8L1403.7 978.8L1405.9 978.8L1408.1 978.7L1410.2 978.7L1412.4 978.7L1414.6 978.7L1416.8 978.6L1418.9 978.6L1421.1 978.6L1423.3 978.6L1425.5 978.5L1427.6 978.5L1429.8 978.5L1432.0 978.5L1434.2 978.5L1436.3 978.4L1438.5 978.4L1440.7 978.4L1442.8 978.4L1445.0 978.4L1447.2 978.4L1449.4 978.3L1451.5 978.3L1453.7 978.3L1455.9 978.3L1458.1 978.3L1460.2 978.3L1462.4 978.3L1464.6 978.2L1466.8 978.2L1468.9 978.2L1471.1 978.2L1473.3 978.2L1475.5 978.2L1477.6 978.2L1479.8 978.2L1482.0 978.2L1484.2 978.1L1486.3 978.1L1488.5 978.1L1490.7 978.1L1492.8 978.1L1495.0 978.1L1497.2 978.1L1499.4 978.1L1501.5 978.1L1503.7 978.1L1505.9 978.0L1508.1 978.0L1510.2 978.0L1512.4 978.0L1514.6 978.0L1516.8 978.0L1518.9 978.0L1521.1 978.0L1523.3 978.0L1525.5 978.0L1527.6 978.0L1529.8 978.0L1532.0 978.0L1534.2 978.0L1536.3 978.0L1538.5 977.9L1540.7 977.9L1542.9 977.9L1545.0 977.9L1547.2 977.9L1549.4 977.9L1551.5 977.9L1553.7 977.9L1555.9 977.9L1558.1 977.9L1560.2 977.9L1562.4 977.9L1564.6 977.9L1566.8 977.9L1568.9 977.9L1571.1 977.9L1573.3 977.9L1575.5 977.9L1577.6 977.9L1579.8 977.9L1582.0 977.8L1584.2 977.8L1586.3 977.8L1588.5 977.8L1590.7 977.8L1592.9 977.8L1595.0 977.8L1597.2 977.8L1599.4 977.8L1601.6 977.8L1603.7 977.8L1605.9 977.8L1608.1 977.8L1610.2 977.8L1612.4 977.8L1614.6 977.8L1616.8 977.8L1618.9 977.8L1621.1 977.8L1623.3 977.8L1625.5 977.8L1627.6 977.8L1629.8 977.8L1632.0 977.8L1634.2 977.8L1636.3 977.8L1638.5 977.8L1640.7 977.8L1642.9 977.8L1645.0 977.8L1647.2 977.8L1649.4 977.8L1651.6 977.8L1653.7 977.7L1655.9 977.7L1658.1 977.7L1660.3 977.7L1662.4 977.7L1664.6 977.7L1666.8 977.7L1668.9 977.7L1671.1 977.7L1673.3 977.7L1675.5 977.7L1677.6 977.7L1679.8 977.7L1682.0 977.7L1684.2 977.7L1686.3 977.7L1688.5 977.7L1690.7 977.7L1692.9 977.7L1695.0 977.7L1697.2 977.7L1699.4 977.7L1701.6 977.7L1703.7 977.7L1705.9 977.7L1708.1 977.7L1710.3 977.7L1712.4 977.7L1714.6 977.7L1716.8 977.7L1719.0 977.7L1721.1 977.7L1723.3 977.7L1725.5 977.7L1727.6 977.7L1729.8 977.7L1732.0 977.7L1734.2 977.7L1736.3 977.7L1738.5 977.7L1740.7 977.7L1742.9 977.7L1745.0 977.7L1747.2 977.7L1749.4 977.7L1751.6 977.7L1753.7 977.7L1755.9 977.7L1758.1 977.7L1760.3 977.7L1762.4 977.7L1764.6 977.7L1766.8 977.7L1769.0 977.7L1771.1 977.7L1773.3 977.7L1775.5 977.7L1777.6 977.7L1779.8 977.7L1782.0 977.7L1784.2 977.7L1786.3 977.6L1788.5 977.6L1790.7 977.6L1792.9 977.6L1795.0 977.6L1797.2 977.6L1799.4 977.6L1801.6 977.6L1803.7 977.6L1805.9 977.6L1808.1 977.6L1810.3 977.6L1812.4 977.6L1814.6 977.6L1816.8 977.6L1819.0 977.6"/></g>
</g>
<g class="tk" text-anchor="end">
<text x="238.5" y="156.0">10</text>
<text x="238.5" y="356.0">0</text>
<text x="238.5" y="556.0">-10</text>
<text x="238.5" y="797.8">10</text>
<text x="238.5" y="997.8">0</text>
<text x="238.5" y="1197.8">-10</text>
</g>
<g class="tk" text-anchor="middle">
<text x="254.7" y="1346.4">-1.8</text>
<text x="560.7" y="1346.4">-1.2</text>
<text x="866.7" y="1346.4">-0.6</text>
<text x="1174.0" y="1346.4">0.0</text>
<text x="1480.0" y="1346.4">0.6</text>
<text x="1786.0" y="1346.4">1.2</text>
<text x="2092.0" y="1346.4">1.8</text>
</g>
<text class="lb" x="1173.1" y="1444.7" text-anchor="middle" style="letter-spacing:1.05px">Energy<tspan class="pr" dy="-2">(</tspan><tspan dy="2">eV</tspan><tspan class="pr" dy="-2">)</tspan></text>
<text class="lb" transform="translate(92.9 952.5) rotate(-90)" style="letter-spacing:1px">Seebeck<tspan class="pr" dy="-2">(</tspan><tspan dy="2">k</tspan><tspan font-size="58" dy="38">B</tspan><tspan dy="-38">/e</tspan><tspan class="pr" dy="-2">)</tspan></text>
<text class="lb"><tspan class="pr" x="292.3" y="146.5">(</tspan><tspan x="326.3" y="148.5">a</tspan><tspan class="pr" x="379" y="146.5">)</tspan></text>
<text class="lb"><tspan class="pr" x="291" y="786.2">(</tspan><tspan x="326.5" y="787.8">b</tspan><tspan class="pr" x="381.2" y="786.2">)</tspan></text>
<path d="M1749 134.6H1916.6" stroke="#ff0000" stroke-width="7.4" fill="none"/>
<path d="M1749 256.4H1916.6" stroke="#000080" stroke-width="7.4" fill="none"/>
<text class="lb" x="1931" y="158.4">S<tspan style="font-weight:normal;font-size:107px;stroke:#fff;stroke-width:2.4px" dx="-7" dy="14">↑</tspan></text>
<text class="lb" x="1931" y="279.4">S<tspan style="font-weight:normal;font-size:107px;stroke:#fff;stroke-width:2.4px" dx="-7" dy="14.5">↓</tspan></text>
<path d="M1744 766.9H1911.6" stroke="#000080" stroke-width="7.8" fill="none"/>
<path d="M1744 888.3H1911.6" stroke="#ff0000" stroke-width="8" fill="none"/>
<text class="lb" x="1931" y="791.2">S<tspan style="font-style:italic;font-size:72px;letter-spacing:-1.5px" dx="3" dy="1">ch</tspan></text>
<text class="lb" x="1931" y="911">S<tspan style="font-style:italic;font-size:72px;letter-spacing:-1px" dx="2" dy="1">sp</tspan></text>
<text class="lb" style="font-size:96px" x="881.3" y="783">P</text>
<text class="lb" style="font-size:101px" x="1308.5" y="774.6">Q</text>
<g fill="#ff00ff" stroke="#ff00ff">
<path d="M882.4 750.5L812 722" stroke-width="3.6" fill="none"/>
<path d="M784.5 709L820.5 715.5L812 729.5Z" stroke-width="1"/>
<path d="M1311.8 760.7L1288 810" stroke-width="3.6" fill="none"/>
<path d="M1274.2 839.5L1279 806L1297 814Z" stroke-width="1"/>
</g>
</svg>
</body></html>
